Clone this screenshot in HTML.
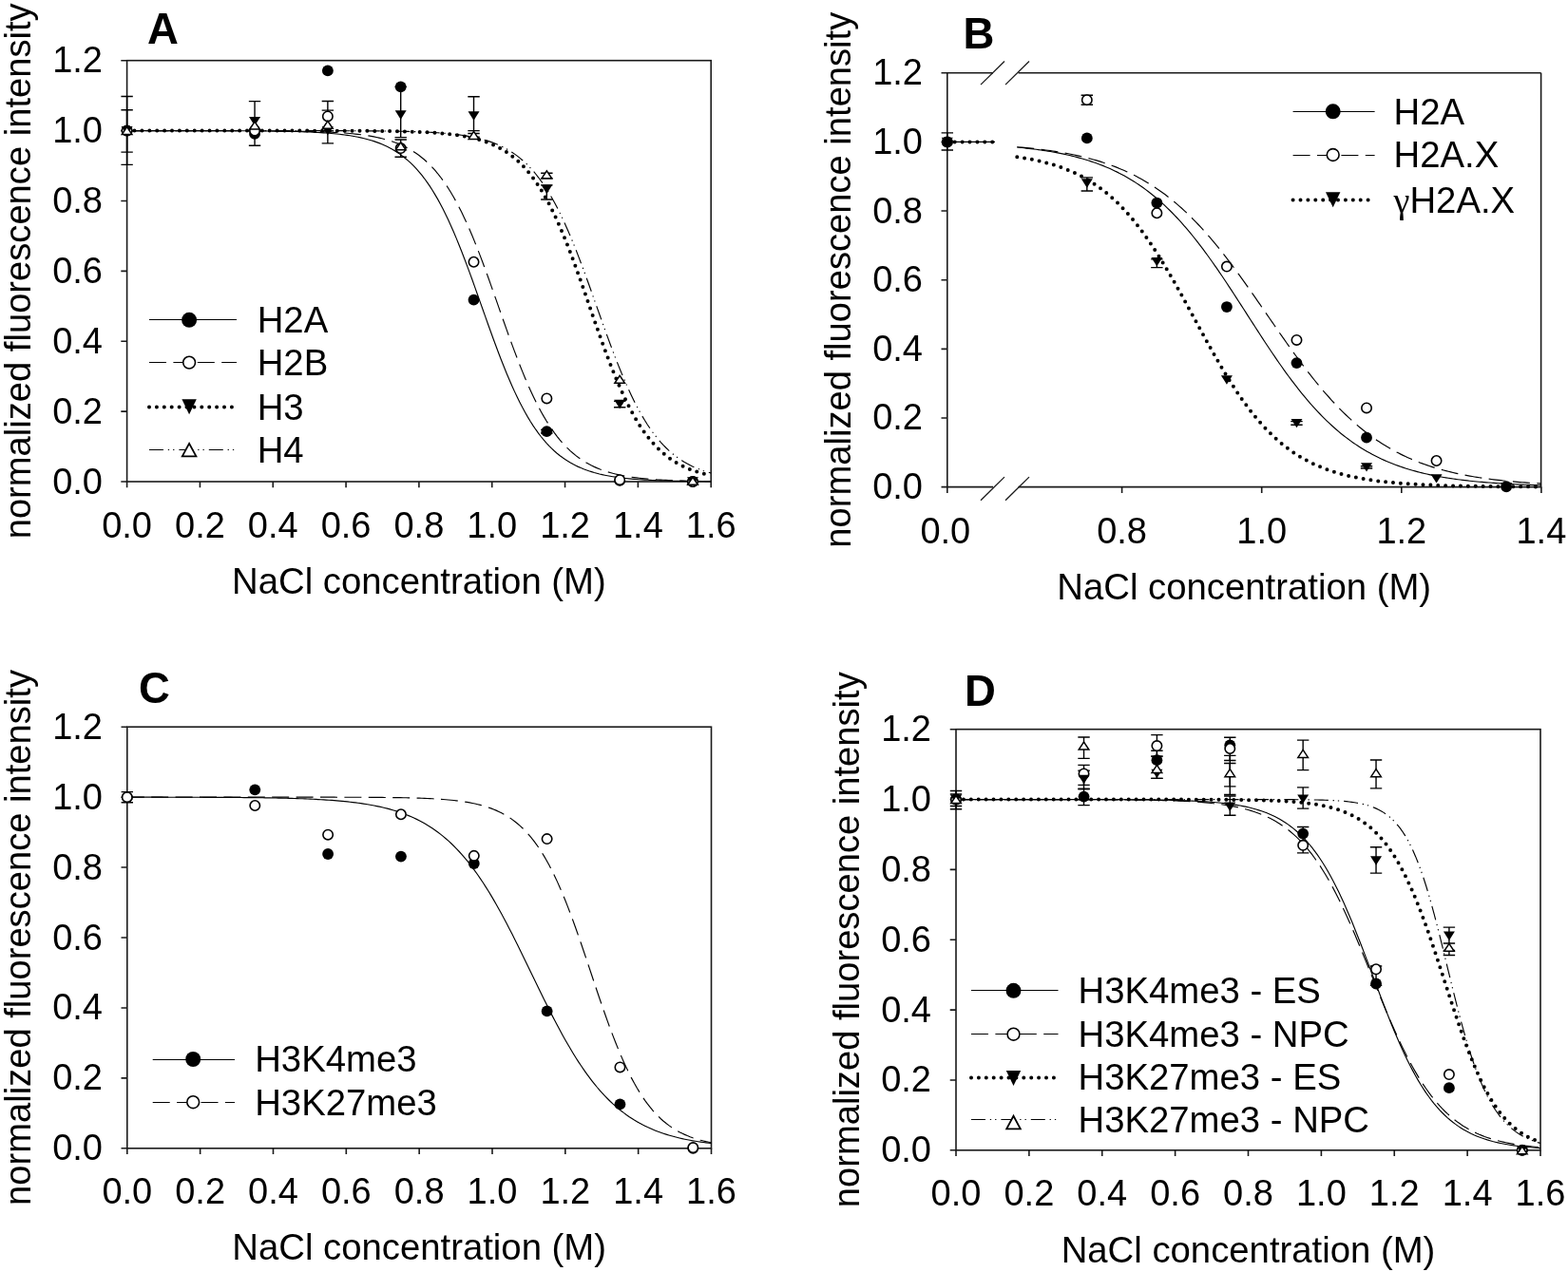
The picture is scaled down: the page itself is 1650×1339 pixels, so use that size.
<!DOCTYPE html>
<html><head><meta charset="utf-8"><title>NaCl elution curves</title>
<style>html,body{margin:0;padding:0;background:#fff;}svg{display:block;}</style>
</head><body>
<svg width="1650" height="1339" viewBox="0 0 1650 1339" font-family='"Liberation Sans", sans-serif' font-size="38" fill="#000">
<rect width="1650" height="1339" fill="#fff"/>
<rect x="133.6" y="63.7" width="614.6" height="443.3" stroke="#1a1a1a" stroke-width="1.6" fill="none"/>
<path d="M127.3 507H133.6M127.3 433.12H133.6M127.3 359.23H133.6M127.3 285.35H133.6M127.3 211.47H133.6M127.3 137.58H133.6M127.3 63.7H133.6M133.6 507V513.3M210.43 507V513.3M287.25 507V513.3M364.08 507V513.3M440.9 507V513.3M517.73 507V513.3M594.55 507V513.3M671.38 507V513.3M748.2 507V513.3" stroke="#1a1a1a" stroke-width="1.6" fill="none"/>
<text x="108" y="519.5" text-anchor="end">0.0</text>
<text x="108" y="445.62" text-anchor="end">0.2</text>
<text x="108" y="371.73" text-anchor="end">0.4</text>
<text x="108" y="297.85" text-anchor="end">0.6</text>
<text x="108" y="223.97" text-anchor="end">0.8</text>
<text x="108" y="150.08" text-anchor="end">1.0</text>
<text x="108" y="76.2" text-anchor="end">1.2</text>
<text x="133.6" y="566" text-anchor="middle">0.0</text>
<text x="210.43" y="566" text-anchor="middle">0.2</text>
<text x="287.25" y="566" text-anchor="middle">0.4</text>
<text x="364.08" y="566" text-anchor="middle">0.6</text>
<text x="440.9" y="566" text-anchor="middle">0.8</text>
<text x="517.73" y="566" text-anchor="middle">1.0</text>
<text x="594.55" y="566" text-anchor="middle">1.2</text>
<text x="671.38" y="566" text-anchor="middle">1.4</text>
<text x="748.2" y="566" text-anchor="middle">1.6</text>
<text x="440.9" y="624.7" text-anchor="middle" font-size="38.3">NaCl concentration (M)</text>
<text transform="translate(31.8 285.35) rotate(-90)" text-anchor="middle" font-size="38.15">normalized fluorescence intensity</text>
<text x="155" y="46.4" font-weight="bold" font-size="45.5">A</text>
<path d="M996 76.8H1045M1071.5 76.8H1621.6" stroke="#1a1a1a" stroke-width="1.6" fill="none"/>
<path d="M1032 89.1L1057 64.5" stroke="#1a1a1a" stroke-width="1.3" fill="none"/>
<path d="M1058 89.1L1083 64.5" stroke="#1a1a1a" stroke-width="1.3" fill="none"/>
<path d="M996 512.6H1045M1071.5 512.6H1621.6" stroke="#1a1a1a" stroke-width="1.6" fill="none"/>
<path d="M1032 526.7L1057 502.1" stroke="#1a1a1a" stroke-width="1.3" fill="none"/>
<path d="M1058 526.7L1083 502.1" stroke="#1a1a1a" stroke-width="1.3" fill="none"/>
<path d="M996.8 76.8V512.6M1621.6 76.8V513.4" stroke="#1a1a1a" stroke-width="1.6" fill="none"/>
<path d="M990.5 512.6H996.8M990.5 439.97H996.8M990.5 367.33H996.8M990.5 294.7H996.8M990.5 222.07H996.8M990.5 149.43H996.8M990.5 76.8H996.8M996.8 512.6V518.9M1180.6 512.6V518.9M1327.7 512.6V518.9M1474.8 512.6V518.9M1621.9 512.6V518.9" stroke="#1a1a1a" stroke-width="1.6" fill="none"/>
<text x="971" y="525.1" text-anchor="end">0.0</text>
<text x="971" y="452.47" text-anchor="end">0.2</text>
<text x="971" y="379.83" text-anchor="end">0.4</text>
<text x="971" y="307.2" text-anchor="end">0.6</text>
<text x="971" y="234.57" text-anchor="end">0.8</text>
<text x="971" y="161.93" text-anchor="end">1.0</text>
<text x="971" y="89.3" text-anchor="end">1.2</text>
<text x="994.8" y="571.7" text-anchor="middle">0.0</text>
<text x="1180.6" y="571.7" text-anchor="middle">0.8</text>
<text x="1327.7" y="571.7" text-anchor="middle">1.0</text>
<text x="1474.8" y="571.7" text-anchor="middle">1.2</text>
<text x="1621.9" y="571.7" text-anchor="middle">1.4</text>
<text x="1309.2" y="630.6" text-anchor="middle" font-size="38.3">NaCl concentration (M)</text>
<text transform="translate(895 294.7) rotate(-90)" text-anchor="middle" font-size="38.15">normalized fluorescence intensity</text>
<text x="1013.5" y="51.1" font-weight="bold" font-size="45.5">B</text>
<rect x="133.8" y="765.2" width="614.7" height="443.6" stroke="#1a1a1a" stroke-width="1.6" fill="none"/>
<path d="M127.5 1208.8H133.8M127.5 1134.87H133.8M127.5 1060.93H133.8M127.5 987H133.8M127.5 913.07H133.8M127.5 839.13H133.8M127.5 765.2H133.8M133.8 1208.8V1215.1M210.64 1208.8V1215.1M287.48 1208.8V1215.1M364.31 1208.8V1215.1M441.15 1208.8V1215.1M517.99 1208.8V1215.1M594.83 1208.8V1215.1M671.66 1208.8V1215.1M748.5 1208.8V1215.1" stroke="#1a1a1a" stroke-width="1.6" fill="none"/>
<text x="108" y="1221.3" text-anchor="end">0.0</text>
<text x="108" y="1147.37" text-anchor="end">0.2</text>
<text x="108" y="1073.43" text-anchor="end">0.4</text>
<text x="108" y="999.5" text-anchor="end">0.6</text>
<text x="108" y="925.57" text-anchor="end">0.8</text>
<text x="108" y="851.63" text-anchor="end">1.0</text>
<text x="108" y="777.7" text-anchor="end">1.2</text>
<text x="133.8" y="1267.2" text-anchor="middle">0.0</text>
<text x="210.64" y="1267.2" text-anchor="middle">0.2</text>
<text x="287.48" y="1267.2" text-anchor="middle">0.4</text>
<text x="364.31" y="1267.2" text-anchor="middle">0.6</text>
<text x="441.15" y="1267.2" text-anchor="middle">0.8</text>
<text x="517.99" y="1267.2" text-anchor="middle">1.0</text>
<text x="594.83" y="1267.2" text-anchor="middle">1.2</text>
<text x="671.66" y="1267.2" text-anchor="middle">1.4</text>
<text x="748.5" y="1267.2" text-anchor="middle">1.6</text>
<text x="441.15" y="1326.2" text-anchor="middle" font-size="38.3">NaCl concentration (M)</text>
<text transform="translate(32 987) rotate(-90)" text-anchor="middle" font-size="38.15">normalized fluorescence intensity</text>
<text x="146" y="740" font-weight="bold" font-size="45.5">C</text>
<rect x="1006" y="767.7" width="615" height="443.1" stroke="#1a1a1a" stroke-width="1.6" fill="none"/>
<path d="M999.7 1210.8H1006M999.7 1136.95H1006M999.7 1063.1H1006M999.7 989.25H1006M999.7 915.4H1006M999.7 841.55H1006M999.7 767.7H1006M1006 1210.8V1217.1M1082.88 1210.8V1217.1M1159.75 1210.8V1217.1M1236.62 1210.8V1217.1M1313.5 1210.8V1217.1M1390.38 1210.8V1217.1M1467.25 1210.8V1217.1M1544.12 1210.8V1217.1M1621 1210.8V1217.1" stroke="#1a1a1a" stroke-width="1.6" fill="none"/>
<text x="980" y="1223.3" text-anchor="end">0.0</text>
<text x="980" y="1149.45" text-anchor="end">0.2</text>
<text x="980" y="1075.6" text-anchor="end">0.4</text>
<text x="980" y="1001.75" text-anchor="end">0.6</text>
<text x="980" y="927.9" text-anchor="end">0.8</text>
<text x="980" y="854.05" text-anchor="end">1.0</text>
<text x="980" y="780.2" text-anchor="end">1.2</text>
<text x="1006" y="1268.8" text-anchor="middle">0.0</text>
<text x="1082.88" y="1268.8" text-anchor="middle">0.2</text>
<text x="1159.75" y="1268.8" text-anchor="middle">0.4</text>
<text x="1236.62" y="1268.8" text-anchor="middle">0.6</text>
<text x="1313.5" y="1268.8" text-anchor="middle">0.8</text>
<text x="1390.38" y="1268.8" text-anchor="middle">1.0</text>
<text x="1467.25" y="1268.8" text-anchor="middle">1.2</text>
<text x="1544.12" y="1268.8" text-anchor="middle">1.4</text>
<text x="1621" y="1268.8" text-anchor="middle">1.6</text>
<text x="1313.5" y="1328.5" text-anchor="middle" font-size="38.3">NaCl concentration (M)</text>
<text transform="translate(904 989.25) rotate(-90)" text-anchor="middle" font-size="38.15">normalized fluorescence intensity</text>
<text x="1015" y="743" font-weight="bold" font-size="45.5">D</text>
<path d="M133.6 137.59 L136.39 137.59 L139.19 137.59 L141.98 137.59 L144.77 137.59 L147.57 137.59 L150.36 137.59 L153.16 137.59 L155.95 137.59 L158.74 137.59 L161.54 137.59 L164.33 137.59 L167.12 137.59 L169.92 137.6 L172.71 137.6 L175.5 137.6 L178.3 137.6 L181.09 137.6 L183.89 137.6 L186.68 137.6 L189.47 137.61 L192.27 137.61 L195.06 137.61 L197.85 137.61 L200.65 137.61 L203.44 137.62 L206.23 137.62 L209.03 137.62 L211.82 137.63 L214.62 137.63 L217.41 137.64 L220.2 137.64 L223 137.64 L225.79 137.65 L228.58 137.66 L231.38 137.66 L234.17 137.67 L236.96 137.68 L239.76 137.69 L242.55 137.7 L245.35 137.71 L248.14 137.72 L250.93 137.73 L253.73 137.74 L256.52 137.75 L259.31 137.77 L262.11 137.79 L264.9 137.8 L267.69 137.82 L270.49 137.85 L273.28 137.87 L276.08 137.9 L278.87 137.92 L281.66 137.95 L284.46 137.99 L287.25 138.02 L290.04 138.06 L292.84 138.1 L295.63 138.15 L298.42 138.2 L301.22 138.26 L304.01 138.32 L306.81 138.38 L309.6 138.45 L312.39 138.53 L315.19 138.62 L317.98 138.71 L320.77 138.81 L323.57 138.92 L326.36 139.04 L329.15 139.17 L331.95 139.31 L334.74 139.46 L337.54 139.63 L340.33 139.81 L343.12 140.01 L345.92 140.22 L348.71 140.46 L351.5 140.71 L354.3 140.99 L357.09 141.29 L359.88 141.62 L362.68 141.98 L365.47 142.37 L368.27 142.79 L371.06 143.25 L373.85 143.74 L376.65 144.28 L379.44 144.87 L382.23 145.51 L385.03 146.2 L387.82 146.95 L390.61 147.77 L393.41 148.65 L396.2 149.61 L399 150.65 L401.79 151.77 L404.58 152.99 L407.38 154.3 L410.17 155.72 L412.96 157.26 L415.76 158.92 L418.55 160.71 L421.34 162.63 L424.14 164.71 L426.93 166.94 L429.73 169.34 L432.52 171.92 L435.31 174.68 L438.11 177.64 L440.9 180.8 L443.69 184.18 L446.49 187.78 L449.28 191.62 L452.07 195.69 L454.87 200.01 L457.66 204.58 L460.46 209.4 L463.25 214.49 L466.04 219.84 L468.84 225.44 L471.63 231.31 L474.42 237.43 L477.22 243.79 L480.01 250.39 L482.8 257.21 L485.6 264.24 L488.39 271.46 L491.19 278.86 L493.98 286.4 L496.77 294.07 L499.57 301.85 L502.36 309.69 L505.15 317.59 L507.95 325.5 L510.74 333.39 L513.53 341.25 L516.33 349.04 L519.12 356.73 L521.92 364.3 L524.71 371.73 L527.5 378.99 L530.3 386.05 L533.09 392.92 L535.88 399.56 L538.68 405.97 L541.47 412.13 L544.26 418.04 L547.06 423.7 L549.85 429.1 L552.65 434.23 L555.44 439.11 L558.23 443.73 L561.03 448.09 L563.82 452.21 L566.61 456.09 L569.41 459.74 L572.2 463.16 L574.99 466.36 L577.79 469.36 L580.58 472.15 L583.38 474.77 L586.17 477.2 L588.96 479.46 L591.76 481.57 L594.55 483.52 L597.34 485.34 L600.14 487.02 L602.93 488.58 L605.72 490.02 L608.52 491.36 L611.31 492.59 L614.11 493.73 L616.9 494.78 L619.69 495.76 L622.49 496.65 L625.28 497.48 L628.07 498.24 L630.87 498.95 L633.66 499.59 L636.45 500.19 L639.25 500.74 L642.04 501.25 L644.84 501.71 L647.63 502.14 L650.42 502.53 L653.22 502.9 L656.01 503.23 L658.8 503.54 L661.6 503.82 L664.39 504.08 L667.18 504.32 L669.98 504.54 L672.77 504.74 L675.57 504.92 L678.36 505.09 L681.15 505.25 L683.95 505.39 L686.74 505.52 L689.53 505.64 L692.33 505.75 L695.12 505.86 L697.91 505.95 L700.71 506.04 L703.5 506.11 L706.3 506.19 L709.09 506.25 L711.88 506.31 L714.68 506.37 L717.47 506.42 L720.26 506.47 L723.06 506.51 L725.85 506.55 L728.64 506.59 L731.44 506.62 L734.23 506.65 L737.03 506.68 L739.82 506.71 L742.61 506.73 L745.41 506.75 L748.2 506.77" stroke="#000" stroke-width="1.15" fill="none"/>
<path d="M133.6 137.59 L136.39 137.59 L139.19 137.59 L141.98 137.59 L144.77 137.59 L147.57 137.59 L150.36 137.59 L153.16 137.59 L155.95 137.59 L158.74 137.59 L161.54 137.59 L164.33 137.59 L167.12 137.59 L169.92 137.59 L172.71 137.59 L175.5 137.59 L178.3 137.59 L181.09 137.59 L183.89 137.59 L186.68 137.59 L189.47 137.6 L192.27 137.6 L195.06 137.6 L197.85 137.6 L200.65 137.6 L203.44 137.6 L206.23 137.6 L209.03 137.6 L211.82 137.61 L214.62 137.61 L217.41 137.61 L220.2 137.61 L223 137.62 L225.79 137.62 L228.58 137.62 L231.38 137.63 L234.17 137.63 L236.96 137.63 L239.76 137.64 L242.55 137.64 L245.35 137.65 L248.14 137.66 L250.93 137.66 L253.73 137.67 L256.52 137.68 L259.31 137.69 L262.11 137.69 L264.9 137.7 L267.69 137.72 L270.49 137.73 L273.28 137.74 L276.08 137.75 L278.87 137.77 L281.66 137.79 L284.46 137.8 L287.25 137.82 L290.04 137.85 L292.84 137.87 L295.63 137.9 L298.42 137.92 L301.22 137.96 L304.01 137.99 L306.81 138.03 L309.6 138.06 L312.39 138.11 L315.19 138.16 L317.98 138.21 L320.77 138.26 L323.57 138.32 L326.36 138.39 L329.15 138.46 L331.95 138.54 L334.74 138.63 L337.54 138.72 L340.33 138.83 L343.12 138.94 L345.92 139.06 L348.71 139.19 L351.5 139.34 L354.3 139.49 L357.09 139.66 L359.88 139.85 L362.68 140.05 L365.47 140.28 L368.27 140.52 L371.06 140.78 L373.85 141.07 L376.65 141.38 L379.44 141.71 L382.23 142.08 L385.03 142.48 L387.82 142.92 L390.61 143.39 L393.41 143.91 L396.2 144.47 L399 145.08 L401.79 145.74 L404.58 146.45 L407.38 147.23 L410.17 148.08 L412.96 149 L415.76 149.99 L418.55 151.07 L421.34 152.24 L424.14 153.5 L426.93 154.87 L429.73 156.35 L432.52 157.95 L435.31 159.68 L438.11 161.55 L440.9 163.56 L443.69 165.72 L446.49 168.05 L449.28 170.55 L452.07 173.24 L454.87 176.12 L457.66 179.21 L460.46 182.51 L463.25 186.03 L466.04 189.78 L468.84 193.77 L471.63 198.01 L474.42 202.51 L477.22 207.26 L480.01 212.27 L482.8 217.55 L485.6 223.1 L488.39 228.9 L491.19 234.97 L493.98 241.29 L496.77 247.85 L499.57 254.65 L502.36 261.66 L505.15 268.88 L507.95 276.28 L510.74 283.83 L513.53 291.53 L516.33 299.34 L519.12 307.23 L521.92 315.18 L524.71 323.15 L527.5 331.12 L530.3 339.06 L533.09 346.93 L535.88 354.72 L538.68 362.39 L541.47 369.91 L544.26 377.27 L547.06 384.45 L549.85 391.41 L552.65 398.16 L555.44 404.67 L558.23 410.94 L561.03 416.95 L563.82 422.7 L566.61 428.19 L569.41 433.41 L572.2 438.37 L574.99 443.07 L577.79 447.5 L580.58 451.69 L583.38 455.63 L586.17 459.33 L588.96 462.81 L591.76 466.06 L594.55 469.1 L597.34 471.94 L600.14 474.58 L602.93 477.05 L605.72 479.34 L608.52 481.47 L611.31 483.45 L614.11 485.28 L616.9 486.98 L619.69 488.56 L622.49 490.01 L625.28 491.36 L628.07 492.6 L630.87 493.75 L633.66 494.81 L636.45 495.79 L639.25 496.69 L642.04 497.52 L644.84 498.29 L647.63 498.99 L650.42 499.64 L653.22 500.24 L656.01 500.79 L658.8 501.3 L661.6 501.76 L664.39 502.19 L667.18 502.58 L669.98 502.94 L672.77 503.28 L675.57 503.58 L678.36 503.86 L681.15 504.12 L683.95 504.36 L686.74 504.57 L689.53 504.77 L692.33 504.96 L695.12 505.12 L697.91 505.28 L700.71 505.42 L703.5 505.55 L706.3 505.67 L709.09 505.78 L711.88 505.88 L714.68 505.97 L717.47 506.06 L720.26 506.14 L723.06 506.21 L725.85 506.27 L728.64 506.33 L731.44 506.39 L734.23 506.44 L737.03 506.48 L739.82 506.53 L742.61 506.57 L745.41 506.6 L748.2 506.64" stroke="#000" stroke-width="1.15" fill="none" stroke-dasharray="18 7.4"/>
<path d="M133.6 137.58 L136.39 137.58 L139.19 137.58 L141.98 137.58 L144.77 137.58 L147.57 137.58 L150.36 137.58 L153.16 137.58 L155.95 137.58 L158.74 137.58 L161.54 137.58 L164.33 137.58 L167.12 137.58 L169.92 137.58 L172.71 137.58 L175.5 137.58 L178.3 137.58 L181.09 137.58 L183.89 137.58 L186.68 137.58 L189.47 137.58 L192.27 137.58 L195.06 137.58 L197.85 137.58 L200.65 137.58 L203.44 137.58 L206.23 137.58 L209.03 137.58 L211.82 137.58 L214.62 137.58 L217.41 137.58 L220.2 137.58 L223 137.58 L225.79 137.58 L228.58 137.59 L231.38 137.59 L234.17 137.59 L236.96 137.59 L239.76 137.59 L242.55 137.59 L245.35 137.59 L248.14 137.59 L250.93 137.59 L253.73 137.59 L256.52 137.59 L259.31 137.59 L262.11 137.59 L264.9 137.59 L267.69 137.59 L270.49 137.59 L273.28 137.59 L276.08 137.59 L278.87 137.59 L281.66 137.59 L284.46 137.59 L287.25 137.59 L290.04 137.6 L292.84 137.6 L295.63 137.6 L298.42 137.6 L301.22 137.6 L304.01 137.6 L306.81 137.6 L309.6 137.61 L312.39 137.61 L315.19 137.61 L317.98 137.61 L320.77 137.61 L323.57 137.62 L326.36 137.62 L329.15 137.62 L331.95 137.63 L334.74 137.63 L337.54 137.64 L340.33 137.64 L343.12 137.65 L345.92 137.65 L348.71 137.66 L351.5 137.66 L354.3 137.67 L357.09 137.68 L359.88 137.69 L362.68 137.7 L365.47 137.71 L368.27 137.72 L371.06 137.73 L373.85 137.75 L376.65 137.76 L379.44 137.78 L382.23 137.8 L385.03 137.82 L387.82 137.84 L390.61 137.86 L393.41 137.89 L396.2 137.91 L399 137.94 L401.79 137.98 L404.58 138.01 L407.38 138.05 L410.17 138.09 L412.96 138.14 L415.76 138.19 L418.55 138.25 L421.34 138.31 L424.14 138.37 L426.93 138.44 L429.73 138.52 L432.52 138.61 L435.31 138.7 L438.11 138.8 L440.9 138.92 L443.69 139.04 L446.49 139.17 L449.28 139.31 L452.07 139.47 L454.87 139.64 L457.66 139.83 L460.46 140.04 L463.25 140.26 L466.04 140.5 L468.84 140.77 L471.63 141.05 L474.42 141.37 L477.22 141.71 L480.01 142.08 L482.8 142.49 L485.6 142.93 L488.39 143.41 L491.19 143.94 L493.98 144.51 L496.77 145.13 L499.57 145.8 L502.36 146.54 L505.15 147.33 L507.95 148.2 L510.74 149.14 L513.53 150.16 L516.33 151.27 L519.12 152.47 L521.92 153.77 L524.71 155.18 L527.5 156.71 L530.3 158.36 L533.09 160.14 L535.88 162.07 L538.68 164.15 L541.47 166.39 L544.26 168.8 L547.06 171.39 L549.85 174.18 L552.65 177.16 L555.44 180.37 L558.23 183.79 L561.03 187.45 L563.82 191.34 L566.61 195.49 L569.41 199.89 L572.2 204.56 L574.99 209.49 L577.79 214.69 L580.58 220.17 L583.38 225.92 L586.17 231.93 L588.96 238.21 L591.76 244.75 L594.55 251.52 L597.34 258.53 L600.14 265.76 L602.93 273.18 L605.72 280.77 L608.52 288.52 L611.31 296.39 L614.11 304.35 L616.9 312.39 L619.69 320.46 L622.49 328.54 L625.28 336.6 L628.07 344.6 L630.87 352.52 L633.66 360.32 L636.45 367.99 L639.25 375.49 L642.04 382.81 L644.84 389.92 L647.63 396.8 L650.42 403.45 L653.22 409.84 L656.01 415.98 L658.8 421.85 L661.6 427.45 L664.39 432.77 L667.18 437.83 L669.98 442.61 L672.77 447.14 L675.57 451.4 L678.36 455.41 L681.15 459.17 L683.95 462.7 L686.74 466 L689.53 469.08 L692.33 471.96 L695.12 474.64 L697.91 477.13 L700.71 479.44 L703.5 481.6 L706.3 483.59 L709.09 485.44 L711.88 487.15 L714.68 488.73 L717.47 490.19 L720.26 491.54 L723.06 492.78 L725.85 493.93 L728.64 494.99 L731.44 495.97 L734.23 496.87 L737.03 497.7 L739.82 498.46 L742.61 499.16 L745.41 499.8 L748.2 500.39" stroke="#000" stroke-width="4.0" fill="none" stroke-dasharray="0 7.9" stroke-linecap="round"/>
<path d="M133.6 137.58 L136.39 137.58 L139.19 137.58 L141.98 137.58 L144.77 137.58 L147.57 137.58 L150.36 137.58 L153.16 137.58 L155.95 137.58 L158.74 137.58 L161.54 137.58 L164.33 137.58 L167.12 137.58 L169.92 137.58 L172.71 137.58 L175.5 137.58 L178.3 137.58 L181.09 137.58 L183.89 137.58 L186.68 137.58 L189.47 137.58 L192.27 137.58 L195.06 137.58 L197.85 137.58 L200.65 137.58 L203.44 137.58 L206.23 137.58 L209.03 137.58 L211.82 137.58 L214.62 137.58 L217.41 137.58 L220.2 137.58 L223 137.58 L225.79 137.58 L228.58 137.59 L231.38 137.59 L234.17 137.59 L236.96 137.59 L239.76 137.59 L242.55 137.59 L245.35 137.59 L248.14 137.59 L250.93 137.59 L253.73 137.59 L256.52 137.59 L259.31 137.59 L262.11 137.59 L264.9 137.59 L267.69 137.59 L270.49 137.59 L273.28 137.59 L276.08 137.59 L278.87 137.59 L281.66 137.59 L284.46 137.59 L287.25 137.59 L290.04 137.6 L292.84 137.6 L295.63 137.6 L298.42 137.6 L301.22 137.6 L304.01 137.6 L306.81 137.6 L309.6 137.6 L312.39 137.61 L315.19 137.61 L317.98 137.61 L320.77 137.61 L323.57 137.62 L326.36 137.62 L329.15 137.62 L331.95 137.63 L334.74 137.63 L337.54 137.63 L340.33 137.64 L343.12 137.64 L345.92 137.65 L348.71 137.66 L351.5 137.66 L354.3 137.67 L357.09 137.68 L359.88 137.68 L362.68 137.69 L365.47 137.7 L368.27 137.71 L371.06 137.73 L373.85 137.74 L376.65 137.75 L379.44 137.77 L382.23 137.78 L385.03 137.8 L387.82 137.82 L390.61 137.84 L393.41 137.87 L396.2 137.89 L399 137.92 L401.79 137.95 L404.58 137.98 L407.38 138.02 L410.17 138.05 L412.96 138.1 L415.76 138.14 L418.55 138.19 L421.34 138.25 L424.14 138.3 L426.93 138.37 L429.73 138.44 L432.52 138.51 L435.31 138.6 L438.11 138.69 L440.9 138.79 L443.69 138.89 L446.49 139.01 L449.28 139.14 L452.07 139.28 L454.87 139.43 L457.66 139.59 L460.46 139.77 L463.25 139.96 L466.04 140.17 L468.84 140.4 L471.63 140.65 L474.42 140.92 L477.22 141.22 L480.01 141.54 L482.8 141.89 L485.6 142.27 L488.39 142.68 L491.19 143.13 L493.98 143.62 L496.77 144.15 L499.57 144.72 L502.36 145.35 L505.15 146.03 L507.95 146.76 L510.74 147.56 L513.53 148.42 L516.33 149.36 L519.12 150.38 L521.92 151.48 L524.71 152.67 L527.5 153.95 L530.3 155.35 L533.09 156.85 L535.88 158.47 L538.68 160.23 L541.47 162.11 L544.26 164.15 L547.06 166.34 L549.85 168.69 L552.65 171.21 L555.44 173.92 L558.23 176.82 L561.03 179.93 L563.82 183.24 L566.61 186.78 L569.41 190.54 L572.2 194.54 L574.99 198.79 L577.79 203.28 L580.58 208.03 L583.38 213.04 L586.17 218.31 L588.96 223.83 L591.76 229.62 L594.55 235.66 L597.34 241.94 L600.14 248.47 L602.93 255.22 L605.72 262.18 L608.52 269.34 L611.31 276.68 L614.11 284.18 L616.9 291.8 L619.69 299.54 L622.49 307.36 L625.28 315.23 L628.07 323.13 L630.87 331.03 L633.66 338.89 L636.45 346.69 L639.25 354.41 L642.04 362.01 L644.84 369.47 L647.63 376.78 L650.42 383.9 L653.22 390.82 L656.01 397.52 L658.8 404 L661.6 410.23 L664.39 416.21 L667.18 421.95 L669.98 427.42 L672.77 432.63 L675.57 437.58 L678.36 442.28 L681.15 446.72 L683.95 450.91 L686.74 454.86 L689.53 458.58 L692.33 462.06 L695.12 465.33 L697.91 468.39 L700.71 471.25 L703.5 473.92 L706.3 476.41 L709.09 478.73 L711.88 480.88 L714.68 482.88 L717.47 484.74 L720.26 486.47 L723.06 488.06 L725.85 489.54 L728.64 490.91 L731.44 492.18 L734.23 493.35 L737.03 494.43 L739.82 495.43 L742.61 496.35 L745.41 497.2 L748.2 497.98" stroke="#000" stroke-width="1.15" fill="none" stroke-dasharray="15 4.8 1.3 4 1.3 5"/>
<path d="M133.6 173.42V101.57M127.4 173.42H139.8M127.4 101.57H139.8" stroke="#000" stroke-width="1.4" fill="none"/>
<path d="M133.6 160.12V115.79M127.4 160.12H139.8M127.4 115.79H139.8" stroke="#000" stroke-width="1.4" fill="none"/>
<path d="M268.04 153.28V106.66M261.84 153.28H274.24M261.84 106.66H274.24" stroke="#000" stroke-width="1.4" fill="none"/>
<path d="M344.87 150.88V106.55M338.67 150.88H351.07M338.67 106.55H351.07" stroke="#000" stroke-width="1.4" fill="none"/>
<path d="M344.87 137.58V116.16M338.67 137.58H351.07M338.67 116.16H351.07" stroke="#000" stroke-width="1.4" fill="none"/>
<path d="M421.69 144.6V91.41M415.49 144.6H427.89M415.49 91.41H427.89" stroke="#000" stroke-width="1.4" fill="none"/>
<path d="M421.69 165.29V147M415.49 165.29H427.89M415.49 147H427.89" stroke="#000" stroke-width="1.4" fill="none"/>
<path d="M498.52 137.58V101.75M492.32 137.58H504.72M492.32 101.75H504.72" stroke="#000" stroke-width="1.4" fill="none"/>
<path d="M498.52 144.23V140.54M492.32 144.23H504.72M492.32 140.54H504.72" stroke="#000" stroke-width="1.4" fill="none"/>
<path d="M575.34 187.82V182.28M569.14 187.82H581.54M569.14 182.28H581.54" stroke="#000" stroke-width="1.4" fill="none"/>
<path d="M575.34 209.99V194.84M569.14 209.99H581.54M569.14 194.84H581.54" stroke="#000" stroke-width="1.4" fill="none"/>
<path d="M652.17 428.68V422.4M645.97 428.68H658.37M645.97 422.4H658.37" stroke="#000" stroke-width="1.4" fill="none"/>
<path d="M575.34 456.02V452.33M569.14 456.02H581.54M569.14 452.33H581.54" stroke="#000" stroke-width="1.4" fill="none"/>
<circle cx="133.6" cy="137.58" r="5.9" fill="#000"/>
<circle cx="268.04" cy="140.91" r="5.9" fill="#000"/>
<circle cx="344.87" cy="74.41" r="5.9" fill="#000"/>
<circle cx="421.69" cy="91.41" r="5.9" fill="#000"/>
<circle cx="498.52" cy="315.64" r="5.9" fill="#000"/>
<circle cx="575.34" cy="454.17" r="5.9" fill="#000"/>
<circle cx="652.17" cy="505.89" r="5.9" fill="#000"/>
<circle cx="728.99" cy="507" r="5.9" fill="#000"/>
<circle cx="133.6" cy="137.58" r="5.2" fill="#fff" stroke="#000" stroke-width="1.6"/>
<circle cx="268.04" cy="137.58" r="5.2" fill="#fff" stroke="#000" stroke-width="1.6"/>
<circle cx="344.87" cy="122.44" r="5.2" fill="#fff" stroke="#000" stroke-width="1.6"/>
<circle cx="421.69" cy="156.05" r="5.2" fill="#fff" stroke="#000" stroke-width="1.6"/>
<circle cx="498.52" cy="275.75" r="5.2" fill="#fff" stroke="#000" stroke-width="1.6"/>
<circle cx="575.34" cy="419.45" r="5.2" fill="#fff" stroke="#000" stroke-width="1.6"/>
<circle cx="652.17" cy="505.15" r="5.2" fill="#fff" stroke="#000" stroke-width="1.6"/>
<circle cx="728.99" cy="507" r="5.2" fill="#fff" stroke="#000" stroke-width="1.6"/>
<path d="M127.6 132.88H139.6L133.6 142.28Z" fill="#000"/>
<path d="M262.04 123.09H274.04L268.04 132.49Z" fill="#000"/>
<path d="M338.87 132.88H350.87L344.87 142.28Z" fill="#000"/>
<path d="M415.69 116.26H427.69L421.69 125.66Z" fill="#000"/>
<path d="M492.52 117.37H504.52L498.52 126.77Z" fill="#000"/>
<path d="M569.34 194.58H581.34L575.34 203.98Z" fill="#000"/>
<path d="M646.17 420.84H658.17L652.17 430.24Z" fill="#000"/>
<path d="M722.99 502.3H734.99L728.99 511.7Z" fill="#000"/>
<path d="M128.3 141.58H138.9L133.6 133.58Z" fill="#fff" stroke="#000" stroke-width="1.5" stroke-linejoin="miter"/>
<path d="M262.74 136.04H273.34L268.04 128.04Z" fill="#fff" stroke="#000" stroke-width="1.5" stroke-linejoin="miter"/>
<path d="M339.57 135.3H350.17L344.87 127.3Z" fill="#fff" stroke="#000" stroke-width="1.5" stroke-linejoin="miter"/>
<path d="M416.39 157.84H426.99L421.69 149.84Z" fill="#fff" stroke="#000" stroke-width="1.5" stroke-linejoin="miter"/>
<path d="M493.22 146.39H503.82L498.52 138.39Z" fill="#fff" stroke="#000" stroke-width="1.5" stroke-linejoin="miter"/>
<path d="M570.04 187.76H580.64L575.34 179.76Z" fill="#fff" stroke="#000" stroke-width="1.5" stroke-linejoin="miter"/>
<path d="M646.87 403.32H657.47L652.17 395.32Z" fill="#fff" stroke="#000" stroke-width="1.5" stroke-linejoin="miter"/>
<path d="M723.69 510.26H734.29L728.99 502.26Z" fill="#fff" stroke="#000" stroke-width="1.5" stroke-linejoin="miter"/>
<path d="M157 336.5H249" stroke="#000" stroke-width="1.15" fill="none"/>
<circle cx="199.1" cy="336.8" r="8" fill="#000"/>
<text x="270.7" y="350.2" font-size="38.3">H2A</text>
<path d="M157 381.5H249" stroke="#000" stroke-width="1.15" fill="none" stroke-dasharray="18 7.4"/>
<circle cx="199.1" cy="381.6" r="6.4" fill="#fff" stroke="#000" stroke-width="1.6"/>
<text x="270.7" y="395" font-size="38.3">H2B</text>
<path d="M157 428.5H249" stroke="#000" stroke-width="4.0" fill="none" stroke-dasharray="0 7.9" stroke-linecap="round"/>
<path d="M191.4 420.3H206.8L199.1 436.3Z" fill="#000"/>
<text x="270.7" y="441.7" font-size="38.3">H3</text>
<path d="M157 473.5H249" stroke="#000" stroke-width="1.15" fill="none" stroke-dasharray="15 4.8 1.3 4 1.3 5"/>
<path d="M191.8 480.4H206.4L199.1 466.8Z" fill="#fff" stroke="#000" stroke-width="1.8" stroke-linejoin="miter"/>
<text x="270.7" y="487" font-size="38.3">H4</text>
<path d="M996.8 149.43H1047" stroke="#000" stroke-width="1.15" fill="none"/>
<path d="M996.8 149.43H1047" stroke="#000" stroke-width="4.0" fill="none" stroke-dasharray="0 7.9" stroke-linecap="round"/>
<path d="M1070.27 155.04 L1072.78 155.28 L1075.29 155.54 L1077.8 155.8 L1080.3 156.07 L1082.81 156.36 L1085.32 156.66 L1087.83 156.97 L1090.33 157.3 L1092.84 157.63 L1095.35 157.99 L1097.86 158.35 L1100.36 158.73 L1102.87 159.13 L1105.38 159.55 L1107.89 159.98 L1110.39 160.43 L1112.9 160.9 L1115.41 161.39 L1117.92 161.89 L1120.42 162.42 L1122.93 162.97 L1125.44 163.54 L1127.94 164.14 L1130.45 164.76 L1132.96 165.4 L1135.47 166.07 L1137.97 166.77 L1140.48 167.49 L1142.99 168.25 L1145.5 169.03 L1148 169.84 L1150.51 170.69 L1153.02 171.57 L1155.53 172.48 L1158.03 173.43 L1160.54 174.41 L1163.05 175.43 L1165.56 176.49 L1168.06 177.58 L1170.57 178.72 L1173.08 179.9 L1175.59 181.13 L1178.09 182.39 L1180.6 183.71 L1183.11 185.07 L1185.61 186.47 L1188.12 187.93 L1190.63 189.44 L1193.14 191 L1195.64 192.61 L1198.15 194.27 L1200.66 195.99 L1203.17 197.76 L1205.67 199.6 L1208.18 201.49 L1210.69 203.44 L1213.2 205.45 L1215.7 207.51 L1218.21 209.65 L1220.72 211.84 L1223.23 214.1 L1225.73 216.41 L1228.24 218.8 L1230.75 221.25 L1233.26 223.76 L1235.76 226.33 L1238.27 228.98 L1240.78 231.68 L1243.28 234.45 L1245.79 237.29 L1248.3 240.19 L1250.81 243.15 L1253.31 246.17 L1255.82 249.26 L1258.33 252.4 L1260.84 255.61 L1263.34 258.87 L1265.85 262.19 L1268.36 265.56 L1270.87 268.99 L1273.37 272.47 L1275.88 275.99 L1278.39 279.56 L1280.9 283.18 L1283.4 286.84 L1285.91 290.53 L1288.42 294.26 L1290.92 298.03 L1293.43 301.82 L1295.94 305.64 L1298.45 309.48 L1300.95 313.35 L1303.46 317.22 L1305.97 321.12 L1308.48 325.02 L1310.98 328.92 L1313.49 332.83 L1316 336.74 L1318.51 340.64 L1321.01 344.53 L1323.52 348.41 L1326.03 352.27 L1328.54 356.12 L1331.04 359.94 L1333.55 363.73 L1336.06 367.5 L1338.57 371.23 L1341.07 374.93 L1343.58 378.59 L1346.09 382.21 L1348.59 385.78 L1351.1 389.31 L1353.61 392.79 L1356.12 396.22 L1358.62 399.6 L1361.13 402.93 L1363.64 406.19 L1366.15 409.4 L1368.65 412.55 L1371.16 415.64 L1373.67 418.67 L1376.18 421.64 L1378.68 424.54 L1381.19 427.38 L1383.7 430.15 L1386.21 432.86 L1388.71 435.51 L1391.22 438.09 L1393.73 440.61 L1396.24 443.06 L1398.74 445.45 L1401.25 447.77 L1403.76 450.03 L1406.26 452.23 L1408.77 454.37 L1411.28 456.44 L1413.79 458.45 L1416.29 460.41 L1418.8 462.3 L1421.31 464.14 L1423.82 465.92 L1426.32 467.64 L1428.83 469.31 L1431.34 470.92 L1433.85 472.49 L1436.35 474 L1438.86 475.46 L1441.37 476.87 L1443.88 478.23 L1446.38 479.55 L1448.89 480.82 L1451.4 482.04 L1453.91 483.23 L1456.41 484.37 L1458.92 485.47 L1461.43 486.53 L1463.93 487.55 L1466.44 488.54 L1468.95 489.49 L1471.46 490.4 L1473.96 491.28 L1476.47 492.13 L1478.98 492.94 L1481.49 493.73 L1483.99 494.49 L1486.5 495.21 L1489.01 495.91 L1491.52 496.58 L1494.02 497.23 L1496.53 497.85 L1499.04 498.45 L1501.55 499.02 L1504.05 499.57 L1506.56 500.1 L1509.07 500.61 L1511.57 501.1 L1514.08 501.57 L1516.59 502.02 L1519.1 502.46 L1521.6 502.87 L1524.11 503.27 L1526.62 503.65 L1529.13 504.02 L1531.63 504.38 L1534.14 504.71 L1536.65 505.04 L1539.16 505.35 L1541.66 505.65 L1544.17 505.94 L1546.68 506.21 L1549.19 506.48 L1551.69 506.73 L1554.2 506.98 L1556.71 507.21 L1559.22 507.43 L1561.72 507.65 L1564.23 507.85 L1566.74 508.05 L1569.24 508.24 L1571.75 508.42 L1574.26 508.6 L1576.77 508.76 L1579.27 508.92 L1581.78 509.08 L1584.29 509.22 L1586.8 509.36 L1589.3 509.5 L1591.81 509.63 L1594.32 509.75 L1596.83 509.87 L1599.33 509.99 L1601.84 510.1 L1604.35 510.2 L1606.86 510.3 L1609.36 510.4 L1611.87 510.49 L1614.38 510.58 L1616.89 510.66 L1619.39 510.74 L1621.9 510.82" stroke="#000" stroke-width="1.15" fill="none"/>
<path d="M1070.27 154.75 L1072.78 154.96 L1075.29 155.19 L1077.8 155.42 L1080.3 155.66 L1082.81 155.91 L1085.32 156.17 L1087.83 156.44 L1090.33 156.72 L1092.84 157.01 L1095.35 157.32 L1097.86 157.63 L1100.36 157.96 L1102.87 158.3 L1105.38 158.66 L1107.89 159.02 L1110.39 159.41 L1112.9 159.8 L1115.41 160.21 L1117.92 160.64 L1120.42 161.09 L1122.93 161.55 L1125.44 162.03 L1127.94 162.53 L1130.45 163.04 L1132.96 163.58 L1135.47 164.13 L1137.97 164.71 L1140.48 165.31 L1142.99 165.93 L1145.5 166.57 L1148 167.24 L1150.51 167.93 L1153.02 168.65 L1155.53 169.4 L1158.03 170.17 L1160.54 170.97 L1163.05 171.8 L1165.56 172.65 L1168.06 173.54 L1170.57 174.46 L1173.08 175.41 L1175.59 176.4 L1178.09 177.42 L1180.6 178.47 L1183.11 179.56 L1185.61 180.69 L1188.12 181.86 L1190.63 183.06 L1193.14 184.31 L1195.64 185.6 L1198.15 186.92 L1200.66 188.3 L1203.17 189.71 L1205.67 191.17 L1208.18 192.68 L1210.69 194.23 L1213.2 195.83 L1215.7 197.48 L1218.21 199.18 L1220.72 200.93 L1223.23 202.73 L1225.73 204.58 L1228.24 206.49 L1230.75 208.45 L1233.26 210.46 L1235.76 212.52 L1238.27 214.64 L1240.78 216.82 L1243.28 219.05 L1245.79 221.34 L1248.3 223.68 L1250.81 226.08 L1253.31 228.54 L1255.82 231.05 L1258.33 233.62 L1260.84 236.25 L1263.34 238.93 L1265.85 241.66 L1268.36 244.45 L1270.87 247.3 L1273.37 250.19 L1275.88 253.14 L1278.39 256.14 L1280.9 259.19 L1283.4 262.29 L1285.91 265.44 L1288.42 268.63 L1290.92 271.87 L1293.43 275.15 L1295.94 278.47 L1298.45 281.83 L1300.95 285.23 L1303.46 288.66 L1305.97 292.12 L1308.48 295.61 L1310.98 299.13 L1313.49 302.68 L1316 306.25 L1318.51 309.83 L1321.01 313.44 L1323.52 317.05 L1326.03 320.68 L1328.54 324.32 L1331.04 327.96 L1333.55 331.61 L1336.06 335.25 L1338.57 338.9 L1341.07 342.53 L1343.58 346.16 L1346.09 349.77 L1348.59 353.37 L1351.1 356.95 L1353.61 360.51 L1356.12 364.05 L1358.62 367.56 L1361.13 371.04 L1363.64 374.5 L1366.15 377.92 L1368.65 381.3 L1371.16 384.65 L1373.67 387.96 L1376.18 391.22 L1378.68 394.44 L1381.19 397.62 L1383.7 400.75 L1386.21 403.84 L1388.71 406.87 L1391.22 409.86 L1393.73 412.79 L1396.24 415.67 L1398.74 418.5 L1401.25 421.27 L1403.76 423.99 L1406.26 426.65 L1408.77 429.25 L1411.28 431.81 L1413.79 434.3 L1416.29 436.74 L1418.8 439.12 L1421.31 441.44 L1423.82 443.71 L1426.32 445.93 L1428.83 448.09 L1431.34 450.19 L1433.85 452.24 L1436.35 454.23 L1438.86 456.17 L1441.37 458.06 L1443.88 459.89 L1446.38 461.68 L1448.89 463.41 L1451.4 465.09 L1453.91 466.73 L1456.41 468.31 L1458.92 469.85 L1461.43 471.34 L1463.93 472.79 L1466.44 474.19 L1468.95 475.55 L1471.46 476.86 L1473.96 478.13 L1476.47 479.37 L1478.98 480.56 L1481.49 481.71 L1483.99 482.83 L1486.5 483.91 L1489.01 484.95 L1491.52 485.96 L1494.02 486.93 L1496.53 487.88 L1499.04 488.78 L1501.55 489.66 L1504.05 490.51 L1506.56 491.33 L1509.07 492.12 L1511.57 492.88 L1514.08 493.62 L1516.59 494.33 L1519.1 495.01 L1521.6 495.67 L1524.11 496.31 L1526.62 496.92 L1529.13 497.51 L1531.63 498.08 L1534.14 498.63 L1536.65 499.16 L1539.16 499.67 L1541.66 500.16 L1544.17 500.64 L1546.68 501.09 L1549.19 501.53 L1551.69 501.95 L1554.2 502.36 L1556.71 502.75 L1559.22 503.13 L1561.72 503.49 L1564.23 503.84 L1566.74 504.18 L1569.24 504.5 L1571.75 504.82 L1574.26 505.12 L1576.77 505.41 L1579.27 505.68 L1581.78 505.95 L1584.29 506.21 L1586.8 506.45 L1589.3 506.69 L1591.81 506.92 L1594.32 507.14 L1596.83 507.35 L1599.33 507.56 L1601.84 507.75 L1604.35 507.94 L1606.86 508.12 L1609.36 508.3 L1611.87 508.46 L1614.38 508.62 L1616.89 508.78 L1619.39 508.93 L1621.9 509.07" stroke="#000" stroke-width="1.15" fill="none" stroke-dasharray="18 7.4"/>
<path d="M1070.27 165.15 L1072.78 165.53 L1075.29 165.92 L1077.8 166.34 L1080.3 166.77 L1082.81 167.23 L1085.32 167.71 L1087.83 168.22 L1090.33 168.75 L1092.84 169.3 L1095.35 169.89 L1097.86 170.5 L1100.36 171.15 L1102.87 171.83 L1105.38 172.54 L1107.89 173.28 L1110.39 174.06 L1112.9 174.88 L1115.41 175.74 L1117.92 176.64 L1120.42 177.59 L1122.93 178.58 L1125.44 179.61 L1127.94 180.7 L1130.45 181.83 L1132.96 183.02 L1135.47 184.26 L1137.97 185.56 L1140.48 186.91 L1142.99 188.33 L1145.5 189.81 L1148 191.35 L1150.51 192.96 L1153.02 194.64 L1155.53 196.39 L1158.03 198.22 L1160.54 200.12 L1163.05 202.09 L1165.56 204.15 L1168.06 206.29 L1170.57 208.5 L1173.08 210.81 L1175.59 213.2 L1178.09 215.67 L1180.6 218.24 L1183.11 220.9 L1185.61 223.64 L1188.12 226.48 L1190.63 229.41 L1193.14 232.44 L1195.64 235.55 L1198.15 238.76 L1200.66 242.06 L1203.17 245.46 L1205.67 248.94 L1208.18 252.52 L1210.69 256.18 L1213.2 259.93 L1215.7 263.76 L1218.21 267.68 L1220.72 271.67 L1223.23 275.74 L1225.73 279.88 L1228.24 284.09 L1230.75 288.36 L1233.26 292.7 L1235.76 297.08 L1238.27 301.52 L1240.78 306 L1243.28 310.52 L1245.79 315.08 L1248.3 319.66 L1250.81 324.26 L1253.31 328.87 L1255.82 333.5 L1258.33 338.13 L1260.84 342.75 L1263.34 347.37 L1265.85 351.96 L1268.36 356.54 L1270.87 361.08 L1273.37 365.6 L1275.88 370.07 L1278.39 374.49 L1280.9 378.87 L1283.4 383.19 L1285.91 387.45 L1288.42 391.64 L1290.92 395.77 L1293.43 399.82 L1295.94 403.8 L1298.45 407.7 L1300.95 411.51 L1303.46 415.24 L1305.97 418.89 L1308.48 422.44 L1310.98 425.9 L1313.49 429.28 L1316 432.56 L1318.51 435.75 L1321.01 438.85 L1323.52 441.85 L1326.03 444.76 L1328.54 447.58 L1331.04 450.3 L1333.55 452.94 L1336.06 455.49 L1338.57 457.94 L1341.07 460.31 L1343.58 462.6 L1346.09 464.8 L1348.59 466.92 L1351.1 468.95 L1353.61 470.91 L1356.12 472.8 L1358.62 474.6 L1361.13 476.34 L1363.64 478 L1366.15 479.6 L1368.65 481.13 L1371.16 482.59 L1373.67 484 L1376.18 485.34 L1378.68 486.63 L1381.19 487.85 L1383.7 489.03 L1386.21 490.15 L1388.71 491.23 L1391.22 492.25 L1393.73 493.23 L1396.24 494.16 L1398.74 495.05 L1401.25 495.91 L1403.76 496.72 L1406.26 497.49 L1408.77 498.23 L1411.28 498.93 L1413.79 499.6 L1416.29 500.24 L1418.8 500.85 L1421.31 501.43 L1423.82 501.98 L1426.32 502.5 L1428.83 503 L1431.34 503.48 L1433.85 503.93 L1436.35 504.36 L1438.86 504.77 L1441.37 505.16 L1443.88 505.53 L1446.38 505.88 L1448.89 506.22 L1451.4 506.54 L1453.91 506.84 L1456.41 507.13 L1458.92 507.4 L1461.43 507.67 L1463.93 507.91 L1466.44 508.15 L1468.95 508.37 L1471.46 508.58 L1473.96 508.79 L1476.47 508.98 L1478.98 509.16 L1481.49 509.33 L1483.99 509.5 L1486.5 509.66 L1489.01 509.8 L1491.52 509.95 L1494.02 510.08 L1496.53 510.21 L1499.04 510.33 L1501.55 510.44 L1504.05 510.55 L1506.56 510.66 L1509.07 510.75 L1511.57 510.85 L1514.08 510.94 L1516.59 511.02 L1519.1 511.1 L1521.6 511.18 L1524.11 511.25 L1526.62 511.32 L1529.13 511.38 L1531.63 511.44 L1534.14 511.5 L1536.65 511.56 L1539.16 511.61 L1541.66 511.66 L1544.17 511.71 L1546.68 511.75 L1549.19 511.8 L1551.69 511.84 L1554.2 511.88 L1556.71 511.91 L1559.22 511.95 L1561.72 511.98 L1564.23 512.01 L1566.74 512.04 L1569.24 512.07 L1571.75 512.1 L1574.26 512.12 L1576.77 512.15 L1579.27 512.17 L1581.78 512.19 L1584.29 512.21 L1586.8 512.23 L1589.3 512.25 L1591.81 512.27 L1594.32 512.29 L1596.83 512.3 L1599.33 512.32 L1601.84 512.33 L1604.35 512.34 L1606.86 512.36 L1609.36 512.37 L1611.87 512.38 L1614.38 512.39 L1616.89 512.4 L1619.39 512.41 L1621.9 512.42" stroke="#000" stroke-width="4.0" fill="none" stroke-dasharray="0 7.9" stroke-linecap="round"/>
<path d="M996.8 158.04V139.85M990.6 158.04H1003M990.6 139.85H1003" stroke="#000" stroke-width="1.4" fill="none"/>
<path d="M1143.82 110.21V100.22M1137.62 110.21H1150.02M1137.62 100.22H1150.02" stroke="#000" stroke-width="1.4" fill="none"/>
<path d="M1143.82 201V186.84M1137.62 201H1150.02M1137.62 186.84H1150.02" stroke="#000" stroke-width="1.4" fill="none"/>
<path d="M1217.37 281.63V272.91M1211.17 281.63H1223.57M1211.17 272.91H1223.57" stroke="#000" stroke-width="1.4" fill="none"/>
<path d="M1364.47 447.23V443.6M1358.27 447.23H1370.67M1358.27 443.6H1370.67" stroke="#000" stroke-width="1.4" fill="none"/>
<path d="M1438.02 492.99V490.81M1431.82 492.99H1444.22M1431.82 490.81H1444.22" stroke="#000" stroke-width="1.4" fill="none"/>
<circle cx="996.8" cy="149.43" r="5.2" fill="#fff" stroke="#000" stroke-width="1.6"/>
<circle cx="1143.82" cy="105.13" r="5.2" fill="#fff" stroke="#000" stroke-width="1.6"/>
<circle cx="1217.37" cy="224.25" r="5.2" fill="#fff" stroke="#000" stroke-width="1.6"/>
<circle cx="1290.92" cy="280.54" r="5.2" fill="#fff" stroke="#000" stroke-width="1.6"/>
<circle cx="1364.47" cy="357.89" r="5.2" fill="#fff" stroke="#000" stroke-width="1.6"/>
<circle cx="1438.02" cy="429.43" r="5.2" fill="#fff" stroke="#000" stroke-width="1.6"/>
<circle cx="1511.57" cy="485" r="5.2" fill="#fff" stroke="#000" stroke-width="1.6"/>
<circle cx="996.8" cy="149.43" r="5.9" fill="#000"/>
<circle cx="1143.82" cy="145.44" r="5.9" fill="#000"/>
<circle cx="1217.37" cy="213.53" r="5.9" fill="#000"/>
<circle cx="1290.92" cy="323.03" r="5.9" fill="#000"/>
<circle cx="1364.47" cy="382.11" r="5.9" fill="#000"/>
<circle cx="1438.02" cy="460.67" r="5.9" fill="#000"/>
<circle cx="1585.12" cy="512.24" r="5.9" fill="#000"/>
<path d="M990.8 144.73H1002.8L996.8 154.13Z" fill="#000"/>
<path d="M1137.82 188.31H1149.82L1143.82 197.71Z" fill="#000"/>
<path d="M1211.37 270.93H1223.37L1217.37 280.33Z" fill="#000"/>
<path d="M1284.92 395.32H1296.92L1290.92 404.72Z" fill="#000"/>
<path d="M1358.47 440.9H1370.47L1364.47 450.3Z" fill="#000"/>
<path d="M1432.02 487.2H1444.02L1438.02 496.6Z" fill="#000"/>
<path d="M1505.57 499.18H1517.57L1511.57 508.58Z" fill="#000"/>
<path d="M1579.12 507.9H1591.12L1585.12 517.3Z" fill="#000"/>
<path d="M1360.6 117.5H1446.6" stroke="#000" stroke-width="1.15" fill="none"/>
<circle cx="1402.7" cy="117.3" r="8" fill="#000"/>
<text x="1466.5" y="130.7" font-size="38.3">H2A</text>
<path d="M1360.6 163.5H1446.6" stroke="#000" stroke-width="1.15" fill="none" stroke-dasharray="18 7.4"/>
<circle cx="1402.7" cy="163" r="6.4" fill="#fff" stroke="#000" stroke-width="1.6"/>
<text x="1466.5" y="176.4" font-size="38.3">H2A.X</text>
<path d="M1360.6 210.5H1446.6" stroke="#000" stroke-width="4.0" fill="none" stroke-dasharray="0 7.9" stroke-linecap="round"/>
<path d="M1395 202.3H1410.4L1402.7 218.3Z" fill="#000"/>
<text x="1466.5" y="223.7" font-size="38.3"><tspan font-family="Liberation Serif, serif">γ</tspan>H2A.X</text>
<path d="M133.8 839.16 L136.59 839.16 L139.39 839.16 L142.18 839.17 L144.98 839.17 L147.77 839.17 L150.56 839.17 L153.36 839.17 L156.15 839.18 L158.95 839.18 L161.74 839.18 L164.54 839.19 L167.33 839.19 L170.12 839.19 L172.92 839.2 L175.71 839.2 L178.51 839.21 L181.3 839.21 L184.09 839.22 L186.89 839.22 L189.68 839.23 L192.48 839.23 L195.27 839.24 L198.06 839.25 L200.86 839.25 L203.65 839.26 L206.45 839.27 L209.24 839.28 L212.03 839.29 L214.83 839.3 L217.62 839.31 L220.42 839.32 L223.21 839.33 L226.01 839.35 L228.8 839.36 L231.59 839.37 L234.39 839.39 L237.18 839.41 L239.98 839.42 L242.77 839.44 L245.56 839.46 L248.36 839.48 L251.15 839.51 L253.95 839.53 L256.74 839.56 L259.53 839.58 L262.33 839.61 L265.12 839.64 L267.92 839.68 L270.71 839.71 L273.5 839.75 L276.3 839.79 L279.09 839.83 L281.89 839.87 L284.68 839.92 L287.48 839.97 L290.27 840.03 L293.06 840.09 L295.86 840.15 L298.65 840.21 L301.45 840.28 L304.24 840.36 L307.03 840.43 L309.83 840.52 L312.62 840.61 L315.42 840.7 L318.21 840.8 L321 840.91 L323.8 841.02 L326.59 841.15 L329.39 841.28 L332.18 841.41 L334.97 841.56 L337.77 841.72 L340.56 841.88 L343.36 842.06 L346.15 842.25 L348.95 842.44 L351.74 842.66 L354.53 842.88 L357.33 843.12 L360.12 843.38 L362.92 843.65 L365.71 843.94 L368.5 844.24 L371.3 844.57 L374.09 844.91 L376.89 845.28 L379.68 845.67 L382.47 846.09 L385.27 846.53 L388.06 846.99 L390.86 847.49 L393.65 848.02 L396.44 848.58 L399.24 849.17 L402.03 849.8 L404.83 850.47 L407.62 851.18 L410.42 851.93 L413.21 852.73 L416 853.57 L418.8 854.47 L421.59 855.41 L424.39 856.42 L427.18 857.48 L429.97 858.6 L432.77 859.79 L435.56 861.05 L438.36 862.37 L441.15 863.78 L443.94 865.26 L446.74 866.82 L449.53 868.47 L452.33 870.2 L455.12 872.03 L457.91 873.96 L460.71 875.99 L463.5 878.12 L466.3 880.36 L469.09 882.71 L471.89 885.17 L474.68 887.76 L477.47 890.47 L480.27 893.3 L483.06 896.26 L485.86 899.35 L488.65 902.58 L491.44 905.94 L494.24 909.43 L497.03 913.07 L499.83 916.84 L502.62 920.76 L505.41 924.81 L508.21 929 L511 933.33 L513.8 937.8 L516.59 942.39 L519.38 947.12 L522.18 951.97 L524.97 956.94 L527.77 962.02 L530.56 967.21 L533.36 972.51 L536.15 977.89 L538.94 983.36 L541.74 988.91 L544.53 994.52 L547.33 1000.19 L550.12 1005.9 L552.91 1011.65 L555.71 1017.43 L558.5 1023.21 L561.3 1029 L564.09 1034.78 L566.88 1040.54 L569.68 1046.26 L572.47 1051.94 L575.27 1057.57 L578.06 1063.14 L580.85 1068.63 L583.65 1074.03 L586.44 1079.35 L589.24 1084.57 L592.03 1089.68 L594.83 1094.68 L597.62 1099.57 L600.41 1104.32 L603.21 1108.95 L606 1113.45 L608.8 1117.82 L611.59 1122.05 L614.38 1126.14 L617.18 1130.09 L619.97 1133.9 L622.77 1137.57 L625.56 1141.1 L628.35 1144.5 L631.15 1147.76 L633.94 1150.88 L636.74 1153.88 L639.53 1156.74 L642.32 1159.48 L645.12 1162.1 L647.91 1164.59 L650.71 1166.98 L653.5 1169.24 L656.29 1171.4 L659.09 1173.46 L661.88 1175.41 L664.68 1177.26 L667.47 1179.02 L670.27 1180.69 L673.06 1182.28 L675.85 1183.78 L678.65 1185.2 L681.44 1186.55 L684.24 1187.82 L687.03 1189.03 L689.82 1190.17 L692.62 1191.25 L695.41 1192.26 L698.21 1193.23 L701 1194.13 L703.79 1194.99 L706.59 1195.8 L709.38 1196.56 L712.18 1197.28 L714.97 1197.96 L717.77 1198.6 L720.56 1199.21 L723.35 1199.77 L726.15 1200.31 L728.94 1200.81 L731.74 1201.29 L734.53 1201.74 L737.32 1202.16 L740.12 1202.55 L742.91 1202.93 L745.71 1203.28 L748.5 1203.61" stroke="#000" stroke-width="1.15" fill="none"/>
<path d="M133.8 839.13 L136.59 839.13 L139.39 839.13 L142.18 839.13 L144.98 839.13 L147.77 839.13 L150.56 839.13 L153.36 839.13 L156.15 839.13 L158.95 839.13 L161.74 839.13 L164.54 839.13 L167.33 839.13 L170.12 839.13 L172.92 839.13 L175.71 839.13 L178.51 839.13 L181.3 839.13 L184.09 839.13 L186.89 839.13 L189.68 839.13 L192.48 839.13 L195.27 839.13 L198.06 839.13 L200.86 839.13 L203.65 839.13 L206.45 839.13 L209.24 839.13 L212.03 839.13 L214.83 839.13 L217.62 839.13 L220.42 839.13 L223.21 839.13 L226.01 839.13 L228.8 839.13 L231.59 839.13 L234.39 839.13 L237.18 839.13 L239.98 839.13 L242.77 839.14 L245.56 839.14 L248.36 839.14 L251.15 839.14 L253.95 839.14 L256.74 839.14 L259.53 839.14 L262.33 839.14 L265.12 839.14 L267.92 839.14 L270.71 839.14 L273.5 839.14 L276.3 839.14 L279.09 839.14 L281.89 839.14 L284.68 839.14 L287.48 839.14 L290.27 839.14 L293.06 839.14 L295.86 839.14 L298.65 839.14 L301.45 839.14 L304.24 839.15 L307.03 839.15 L309.83 839.15 L312.62 839.15 L315.42 839.15 L318.21 839.15 L321 839.15 L323.8 839.16 L326.59 839.16 L329.39 839.16 L332.18 839.16 L334.97 839.17 L337.77 839.17 L340.56 839.17 L343.36 839.18 L346.15 839.18 L348.95 839.19 L351.74 839.19 L354.53 839.2 L357.33 839.2 L360.12 839.21 L362.92 839.22 L365.71 839.22 L368.5 839.23 L371.3 839.24 L374.09 839.25 L376.89 839.26 L379.68 839.28 L382.47 839.29 L385.27 839.3 L388.06 839.32 L390.86 839.34 L393.65 839.36 L396.44 839.38 L399.24 839.4 L402.03 839.43 L404.83 839.46 L407.62 839.49 L410.42 839.52 L413.21 839.56 L416 839.6 L418.8 839.64 L421.59 839.69 L424.39 839.74 L427.18 839.8 L429.97 839.86 L432.77 839.93 L435.56 840.01 L438.36 840.09 L441.15 840.18 L443.94 840.28 L446.74 840.39 L449.53 840.51 L452.33 840.64 L455.12 840.78 L457.91 840.93 L460.71 841.1 L463.5 841.29 L466.3 841.49 L469.09 841.71 L471.89 841.96 L474.68 842.22 L477.47 842.51 L480.27 842.83 L483.06 843.18 L485.86 843.56 L488.65 843.97 L491.44 844.43 L494.24 844.92 L497.03 845.46 L499.83 846.05 L502.62 846.69 L505.41 847.39 L508.21 848.16 L511 848.99 L513.8 849.9 L516.59 850.89 L519.38 851.97 L522.18 853.14 L524.97 854.42 L527.77 855.8 L530.56 857.31 L533.36 858.94 L536.15 860.71 L538.94 862.63 L541.74 864.7 L544.53 866.95 L547.33 869.37 L550.12 871.99 L552.91 874.8 L555.71 877.84 L558.5 881.09 L561.3 884.59 L564.09 888.33 L566.88 892.32 L569.68 896.59 L572.47 901.13 L575.27 905.95 L578.06 911.06 L580.85 916.45 L583.65 922.15 L586.44 928.13 L589.24 934.4 L592.03 940.95 L594.83 947.78 L597.62 954.86 L600.41 962.19 L603.21 969.74 L606 977.5 L608.8 985.43 L611.59 993.52 L614.38 1001.73 L617.18 1010.03 L619.97 1018.38 L622.77 1026.76 L625.56 1035.13 L628.35 1043.45 L631.15 1051.69 L633.94 1059.83 L636.74 1067.81 L639.53 1075.63 L642.32 1083.26 L645.12 1090.66 L647.91 1097.83 L650.71 1104.74 L653.5 1111.39 L656.29 1117.75 L659.09 1123.83 L661.88 1129.62 L664.68 1135.12 L667.47 1140.32 L670.27 1145.24 L673.06 1149.87 L675.85 1154.22 L678.65 1158.31 L681.44 1162.13 L684.24 1165.71 L687.03 1169.04 L689.82 1172.15 L692.62 1175.03 L695.41 1177.71 L698.21 1180.2 L701 1182.5 L703.79 1184.63 L706.59 1186.6 L709.38 1188.42 L712.18 1190.1 L714.97 1191.64 L717.77 1193.07 L720.56 1194.38 L723.35 1195.58 L726.15 1196.69 L728.94 1197.71 L731.74 1198.65 L734.53 1199.5 L737.32 1200.29 L740.12 1201.01 L742.91 1201.68 L745.71 1202.28 L748.5 1202.84" stroke="#000" stroke-width="1.15" fill="none" stroke-dasharray="18 7.4"/>
<path d="M133.8 844.68V833.59M127.6 844.68H140M127.6 833.59H140" stroke="#000" stroke-width="1.4" fill="none"/>
<circle cx="133.8" cy="839.13" r="5.9" fill="#000"/>
<circle cx="268.27" cy="831.37" r="5.9" fill="#000"/>
<circle cx="345.1" cy="899.02" r="5.9" fill="#000"/>
<circle cx="421.94" cy="901.61" r="5.9" fill="#000"/>
<circle cx="498.78" cy="909" r="5.9" fill="#000"/>
<circle cx="575.62" cy="1064.41" r="5.9" fill="#000"/>
<circle cx="652.45" cy="1162.41" r="5.9" fill="#000"/>
<circle cx="729.29" cy="1208.8" r="5.9" fill="#000"/>
<circle cx="133.8" cy="839.13" r="5.2" fill="#fff" stroke="#000" stroke-width="1.6"/>
<circle cx="268.27" cy="848.01" r="5.2" fill="#fff" stroke="#000" stroke-width="1.6"/>
<circle cx="345.1" cy="878.69" r="5.2" fill="#fff" stroke="#000" stroke-width="1.6"/>
<circle cx="421.94" cy="857.25" r="5.2" fill="#fff" stroke="#000" stroke-width="1.6"/>
<circle cx="498.78" cy="900.87" r="5.2" fill="#fff" stroke="#000" stroke-width="1.6"/>
<circle cx="575.62" cy="883.12" r="5.2" fill="#fff" stroke="#000" stroke-width="1.6"/>
<circle cx="652.45" cy="1123.41" r="5.2" fill="#fff" stroke="#000" stroke-width="1.6"/>
<circle cx="729.29" cy="1208.06" r="5.2" fill="#fff" stroke="#000" stroke-width="1.6"/>
<path d="M160.7 1115.5H247" stroke="#000" stroke-width="1.15" fill="none"/>
<circle cx="203.2" cy="1115" r="8" fill="#000"/>
<text x="268.2" y="1128.4" font-size="38.3">H3K4me3</text>
<path d="M160.7 1160.5H247" stroke="#000" stroke-width="1.15" fill="none" stroke-dasharray="18 7.4"/>
<circle cx="203.2" cy="1160.2" r="6.4" fill="#fff" stroke="#000" stroke-width="1.6"/>
<text x="268.2" y="1173.6" font-size="38.3">H3K27me3</text>
<path d="M1006 841.55 L1008.8 841.55 L1011.59 841.55 L1014.39 841.55 L1017.18 841.55 L1019.98 841.55 L1022.77 841.55 L1025.57 841.55 L1028.36 841.55 L1031.16 841.55 L1033.95 841.55 L1036.75 841.55 L1039.55 841.55 L1042.34 841.55 L1045.14 841.55 L1047.93 841.55 L1050.73 841.55 L1053.52 841.55 L1056.32 841.55 L1059.11 841.56 L1061.91 841.56 L1064.7 841.56 L1067.5 841.56 L1070.3 841.56 L1073.09 841.56 L1075.89 841.56 L1078.68 841.56 L1081.48 841.56 L1084.27 841.56 L1087.07 841.56 L1089.86 841.56 L1092.66 841.56 L1095.45 841.57 L1098.25 841.57 L1101.05 841.57 L1103.84 841.57 L1106.64 841.57 L1109.43 841.57 L1112.23 841.58 L1115.02 841.58 L1117.82 841.58 L1120.61 841.58 L1123.41 841.58 L1126.2 841.59 L1129 841.59 L1131.8 841.59 L1134.59 841.6 L1137.39 841.6 L1140.18 841.61 L1142.98 841.61 L1145.77 841.62 L1148.57 841.62 L1151.36 841.63 L1154.16 841.63 L1156.95 841.64 L1159.75 841.65 L1162.55 841.66 L1165.34 841.67 L1168.14 841.68 L1170.93 841.69 L1173.73 841.7 L1176.52 841.71 L1179.32 841.72 L1182.11 841.74 L1184.91 841.75 L1187.7 841.77 L1190.5 841.79 L1193.3 841.81 L1196.09 841.83 L1198.89 841.86 L1201.68 841.88 L1204.48 841.91 L1207.27 841.94 L1210.07 841.97 L1212.86 842.01 L1215.66 842.05 L1218.45 842.09 L1221.25 842.14 L1224.05 842.18 L1226.84 842.24 L1229.64 842.3 L1232.43 842.36 L1235.23 842.43 L1238.02 842.5 L1240.82 842.58 L1243.61 842.67 L1246.41 842.76 L1249.2 842.86 L1252 842.97 L1254.8 843.09 L1257.59 843.22 L1260.39 843.36 L1263.18 843.51 L1265.98 843.67 L1268.77 843.85 L1271.57 844.04 L1274.36 844.25 L1277.16 844.48 L1279.95 844.72 L1282.75 844.99 L1285.55 845.27 L1288.34 845.58 L1291.14 845.92 L1293.93 846.28 L1296.73 846.67 L1299.52 847.1 L1302.32 847.56 L1305.11 848.05 L1307.91 848.59 L1310.7 849.17 L1313.5 849.8 L1316.3 850.48 L1319.09 851.21 L1321.89 852 L1324.68 852.85 L1327.48 853.77 L1330.27 854.76 L1333.07 855.83 L1335.86 856.98 L1338.66 858.22 L1341.45 859.56 L1344.25 860.99 L1347.05 862.53 L1349.84 864.19 L1352.64 865.97 L1355.43 867.88 L1358.23 869.93 L1361.02 872.12 L1363.82 874.46 L1366.61 876.96 L1369.41 879.64 L1372.2 882.49 L1375 885.52 L1377.8 888.75 L1380.59 892.18 L1383.39 895.81 L1386.18 899.66 L1388.98 903.73 L1391.77 908.02 L1394.57 912.54 L1397.36 917.29 L1400.16 922.27 L1402.95 927.48 L1405.75 932.92 L1408.55 938.59 L1411.34 944.48 L1414.14 950.59 L1416.93 956.9 L1419.73 963.4 L1422.52 970.09 L1425.32 976.94 L1428.11 983.94 L1430.91 991.07 L1433.7 998.31 L1436.5 1005.64 L1439.3 1013.04 L1442.09 1020.48 L1444.89 1027.94 L1447.68 1035.39 L1450.48 1042.81 L1453.27 1050.18 L1456.07 1057.47 L1458.86 1064.66 L1461.66 1071.73 L1464.45 1078.67 L1467.25 1085.44 L1470.05 1092.04 L1472.84 1098.46 L1475.64 1104.67 L1478.43 1110.68 L1481.23 1116.46 L1484.02 1122.03 L1486.82 1127.36 L1489.61 1132.46 L1492.41 1137.34 L1495.2 1141.98 L1498 1146.39 L1500.8 1150.57 L1503.59 1154.53 L1506.39 1158.28 L1509.18 1161.82 L1511.98 1165.15 L1514.77 1168.29 L1517.57 1171.23 L1520.36 1174 L1523.16 1176.59 L1525.95 1179.02 L1528.75 1181.29 L1531.55 1183.41 L1534.34 1185.39 L1537.14 1187.23 L1539.93 1188.96 L1542.73 1190.56 L1545.52 1192.05 L1548.32 1193.44 L1551.11 1194.73 L1553.91 1195.92 L1556.7 1197.04 L1559.5 1198.07 L1562.3 1199.02 L1565.09 1199.91 L1567.89 1200.73 L1570.68 1201.5 L1573.48 1202.2 L1576.27 1202.85 L1579.07 1203.46 L1581.86 1204.02 L1584.66 1204.54 L1587.45 1205.01 L1590.25 1205.46 L1593.05 1205.87 L1595.84 1206.24 L1598.64 1206.59 L1601.43 1206.92 L1604.23 1207.22 L1607.02 1207.49 L1609.82 1207.75 L1612.61 1207.98 L1615.41 1208.2 L1618.2 1208.4 L1621 1208.58" stroke="#000" stroke-width="1.15" fill="none"/>
<path d="M1006 841.55 L1008.8 841.55 L1011.59 841.55 L1014.39 841.55 L1017.18 841.55 L1019.98 841.55 L1022.77 841.55 L1025.57 841.55 L1028.36 841.56 L1031.16 841.56 L1033.95 841.56 L1036.75 841.56 L1039.55 841.56 L1042.34 841.56 L1045.14 841.56 L1047.93 841.56 L1050.73 841.56 L1053.52 841.56 L1056.32 841.56 L1059.11 841.56 L1061.91 841.56 L1064.7 841.56 L1067.5 841.57 L1070.3 841.57 L1073.09 841.57 L1075.89 841.57 L1078.68 841.57 L1081.48 841.57 L1084.27 841.57 L1087.07 841.58 L1089.86 841.58 L1092.66 841.58 L1095.45 841.58 L1098.25 841.58 L1101.05 841.59 L1103.84 841.59 L1106.64 841.59 L1109.43 841.6 L1112.23 841.6 L1115.02 841.6 L1117.82 841.61 L1120.61 841.61 L1123.41 841.62 L1126.2 841.62 L1129 841.63 L1131.8 841.64 L1134.59 841.64 L1137.39 841.65 L1140.18 841.66 L1142.98 841.66 L1145.77 841.67 L1148.57 841.68 L1151.36 841.69 L1154.16 841.71 L1156.95 841.72 L1159.75 841.73 L1162.55 841.74 L1165.34 841.76 L1168.14 841.78 L1170.93 841.79 L1173.73 841.81 L1176.52 841.83 L1179.32 841.86 L1182.11 841.88 L1184.91 841.9 L1187.7 841.93 L1190.5 841.96 L1193.3 841.99 L1196.09 842.03 L1198.89 842.07 L1201.68 842.11 L1204.48 842.15 L1207.27 842.2 L1210.07 842.25 L1212.86 842.3 L1215.66 842.36 L1218.45 842.42 L1221.25 842.49 L1224.05 842.57 L1226.84 842.64 L1229.64 842.73 L1232.43 842.82 L1235.23 842.92 L1238.02 843.03 L1240.82 843.14 L1243.61 843.27 L1246.41 843.4 L1249.2 843.54 L1252 843.7 L1254.8 843.86 L1257.59 844.04 L1260.39 844.24 L1263.18 844.44 L1265.98 844.67 L1268.77 844.91 L1271.57 845.17 L1274.36 845.45 L1277.16 845.75 L1279.95 846.07 L1282.75 846.42 L1285.55 846.8 L1288.34 847.2 L1291.14 847.64 L1293.93 848.1 L1296.73 848.61 L1299.52 849.15 L1302.32 849.73 L1305.11 850.35 L1307.91 851.02 L1310.7 851.74 L1313.5 852.51 L1316.3 853.34 L1319.09 854.23 L1321.89 855.18 L1324.68 856.2 L1327.48 857.3 L1330.27 858.47 L1333.07 859.73 L1335.86 861.08 L1338.66 862.51 L1341.45 864.05 L1344.25 865.69 L1347.05 867.45 L1349.84 869.32 L1352.64 871.31 L1355.43 873.44 L1358.23 875.7 L1361.02 878.1 L1363.82 880.65 L1366.61 883.36 L1369.41 886.23 L1372.2 889.27 L1375 892.49 L1377.8 895.88 L1380.59 899.46 L1383.39 903.22 L1386.18 907.19 L1388.98 911.34 L1391.77 915.7 L1394.57 920.26 L1397.36 925.02 L1400.16 929.97 L1402.95 935.13 L1405.75 940.48 L1408.55 946.02 L1411.34 951.75 L1414.14 957.65 L1416.93 963.72 L1419.73 969.94 L1422.52 976.31 L1425.32 982.81 L1428.11 989.42 L1430.91 996.14 L1433.7 1002.94 L1436.5 1009.8 L1439.3 1016.71 L1442.09 1023.64 L1444.89 1030.58 L1447.68 1037.51 L1450.48 1044.41 L1453.27 1051.26 L1456.07 1058.03 L1458.86 1064.72 L1461.66 1071.31 L1464.45 1077.77 L1467.25 1084.1 L1470.05 1090.29 L1472.84 1096.31 L1475.64 1102.17 L1478.43 1107.84 L1481.23 1113.33 L1484.02 1118.63 L1486.82 1123.73 L1489.61 1128.64 L1492.41 1133.34 L1495.2 1137.85 L1498 1142.15 L1500.8 1146.25 L1503.59 1150.16 L1506.39 1153.88 L1509.18 1157.41 L1511.98 1160.75 L1514.77 1163.92 L1517.57 1166.91 L1520.36 1169.73 L1523.16 1172.4 L1525.95 1174.91 L1528.75 1177.28 L1531.55 1179.5 L1534.34 1181.59 L1537.14 1183.55 L1539.93 1185.39 L1542.73 1187.11 L1545.52 1188.72 L1548.32 1190.23 L1551.11 1191.65 L1553.91 1192.97 L1556.7 1194.2 L1559.5 1195.35 L1562.3 1196.43 L1565.09 1197.43 L1567.89 1198.37 L1570.68 1199.24 L1573.48 1200.05 L1576.27 1200.81 L1579.07 1201.52 L1581.86 1202.17 L1584.66 1202.79 L1587.45 1203.35 L1590.25 1203.88 L1593.05 1204.38 L1595.84 1204.83 L1598.64 1205.26 L1601.43 1205.66 L1604.23 1206.02 L1607.02 1206.37 L1609.82 1206.68 L1612.61 1206.98 L1615.41 1207.25 L1618.2 1207.51 L1621 1207.74" stroke="#000" stroke-width="1.15" fill="none" stroke-dasharray="18 7.4"/>
<path d="M1006 841.55 L1008.8 841.55 L1011.59 841.55 L1014.39 841.55 L1017.18 841.55 L1019.98 841.55 L1022.77 841.55 L1025.57 841.55 L1028.36 841.55 L1031.16 841.55 L1033.95 841.55 L1036.75 841.55 L1039.55 841.55 L1042.34 841.55 L1045.14 841.55 L1047.93 841.55 L1050.73 841.55 L1053.52 841.55 L1056.32 841.55 L1059.11 841.55 L1061.91 841.55 L1064.7 841.55 L1067.5 841.55 L1070.3 841.55 L1073.09 841.55 L1075.89 841.55 L1078.68 841.55 L1081.48 841.55 L1084.27 841.55 L1087.07 841.55 L1089.86 841.55 L1092.66 841.55 L1095.45 841.55 L1098.25 841.55 L1101.05 841.55 L1103.84 841.55 L1106.64 841.55 L1109.43 841.55 L1112.23 841.55 L1115.02 841.55 L1117.82 841.55 L1120.61 841.55 L1123.41 841.55 L1126.2 841.55 L1129 841.55 L1131.8 841.55 L1134.59 841.55 L1137.39 841.55 L1140.18 841.55 L1142.98 841.55 L1145.77 841.55 L1148.57 841.55 L1151.36 841.55 L1154.16 841.55 L1156.95 841.55 L1159.75 841.55 L1162.55 841.56 L1165.34 841.56 L1168.14 841.56 L1170.93 841.56 L1173.73 841.56 L1176.52 841.56 L1179.32 841.56 L1182.11 841.56 L1184.91 841.56 L1187.7 841.56 L1190.5 841.56 L1193.3 841.56 L1196.09 841.56 L1198.89 841.57 L1201.68 841.57 L1204.48 841.57 L1207.27 841.57 L1210.07 841.57 L1212.86 841.57 L1215.66 841.58 L1218.45 841.58 L1221.25 841.58 L1224.05 841.59 L1226.84 841.59 L1229.64 841.59 L1232.43 841.6 L1235.23 841.6 L1238.02 841.6 L1240.82 841.61 L1243.61 841.61 L1246.41 841.62 L1249.2 841.63 L1252 841.63 L1254.8 841.64 L1257.59 841.65 L1260.39 841.66 L1263.18 841.67 L1265.98 841.68 L1268.77 841.69 L1271.57 841.7 L1274.36 841.72 L1277.16 841.73 L1279.95 841.75 L1282.75 841.77 L1285.55 841.79 L1288.34 841.81 L1291.14 841.83 L1293.93 841.86 L1296.73 841.89 L1299.52 841.92 L1302.32 841.95 L1305.11 841.99 L1307.91 842.03 L1310.7 842.07 L1313.5 842.12 L1316.3 842.17 L1319.09 842.23 L1321.89 842.29 L1324.68 842.36 L1327.48 842.43 L1330.27 842.52 L1333.07 842.6 L1335.86 842.7 L1338.66 842.8 L1341.45 842.92 L1344.25 843.04 L1347.05 843.18 L1349.84 843.33 L1352.64 843.49 L1355.43 843.66 L1358.23 843.85 L1361.02 844.06 L1363.82 844.29 L1366.61 844.54 L1369.41 844.81 L1372.2 845.1 L1375 845.42 L1377.8 845.77 L1380.59 846.16 L1383.39 846.57 L1386.18 847.02 L1388.98 847.51 L1391.77 848.05 L1394.57 848.63 L1397.36 849.27 L1400.16 849.96 L1402.95 850.71 L1405.75 851.52 L1408.55 852.41 L1411.34 853.37 L1414.14 854.42 L1416.93 855.55 L1419.73 856.78 L1422.52 858.11 L1425.32 859.56 L1428.11 861.12 L1430.91 862.82 L1433.7 864.65 L1436.5 866.63 L1439.3 868.76 L1442.09 871.07 L1444.89 873.55 L1447.68 876.23 L1450.48 879.1 L1453.27 882.19 L1456.07 885.5 L1458.86 889.04 L1461.66 892.83 L1464.45 896.88 L1467.25 901.19 L1470.05 905.78 L1472.84 910.64 L1475.64 915.8 L1478.43 921.25 L1481.23 926.99 L1484.02 933.03 L1486.82 939.36 L1489.61 945.99 L1492.41 952.89 L1495.2 960.07 L1498 967.5 L1500.8 975.18 L1503.59 983.07 L1506.39 991.16 L1509.18 999.42 L1511.98 1007.83 L1514.77 1016.34 L1517.57 1024.92 L1520.36 1033.55 L1523.16 1042.18 L1525.95 1050.77 L1528.75 1059.3 L1531.55 1067.72 L1534.34 1075.99 L1537.14 1084.1 L1539.93 1092 L1542.73 1099.67 L1545.52 1107.08 L1548.32 1114.22 L1551.11 1121.06 L1553.91 1127.6 L1556.7 1133.82 L1559.5 1139.72 L1562.3 1145.3 L1565.09 1150.55 L1567.89 1155.47 L1570.68 1160.08 L1573.48 1164.39 L1576.27 1168.39 L1579.07 1172.1 L1581.86 1175.54 L1584.66 1178.71 L1587.45 1181.63 L1590.25 1184.32 L1593.05 1186.78 L1595.84 1189.04 L1598.64 1191.1 L1601.43 1192.99 L1604.23 1194.7 L1607.02 1196.27 L1609.82 1197.69 L1612.61 1198.98 L1615.41 1200.14 L1618.2 1201.2 L1621 1202.16" stroke="#000" stroke-width="4.0" fill="none" stroke-dasharray="0 7.9" stroke-linecap="round"/>
<path d="M1006 841.55 L1008.8 841.55 L1011.59 841.55 L1014.39 841.55 L1017.18 841.55 L1019.98 841.55 L1022.77 841.55 L1025.57 841.55 L1028.36 841.55 L1031.16 841.55 L1033.95 841.55 L1036.75 841.55 L1039.55 841.55 L1042.34 841.55 L1045.14 841.55 L1047.93 841.55 L1050.73 841.55 L1053.52 841.55 L1056.32 841.55 L1059.11 841.55 L1061.91 841.55 L1064.7 841.55 L1067.5 841.55 L1070.3 841.55 L1073.09 841.55 L1075.89 841.55 L1078.68 841.55 L1081.48 841.55 L1084.27 841.55 L1087.07 841.55 L1089.86 841.55 L1092.66 841.55 L1095.45 841.55 L1098.25 841.55 L1101.05 841.55 L1103.84 841.55 L1106.64 841.55 L1109.43 841.55 L1112.23 841.55 L1115.02 841.55 L1117.82 841.55 L1120.61 841.55 L1123.41 841.55 L1126.2 841.55 L1129 841.55 L1131.8 841.55 L1134.59 841.55 L1137.39 841.55 L1140.18 841.55 L1142.98 841.55 L1145.77 841.55 L1148.57 841.55 L1151.36 841.55 L1154.16 841.55 L1156.95 841.55 L1159.75 841.55 L1162.55 841.55 L1165.34 841.55 L1168.14 841.55 L1170.93 841.55 L1173.73 841.55 L1176.52 841.55 L1179.32 841.55 L1182.11 841.55 L1184.91 841.55 L1187.7 841.55 L1190.5 841.55 L1193.3 841.55 L1196.09 841.55 L1198.89 841.55 L1201.68 841.55 L1204.48 841.55 L1207.27 841.55 L1210.07 841.55 L1212.86 841.55 L1215.66 841.55 L1218.45 841.55 L1221.25 841.55 L1224.05 841.55 L1226.84 841.55 L1229.64 841.55 L1232.43 841.55 L1235.23 841.55 L1238.02 841.55 L1240.82 841.55 L1243.61 841.55 L1246.41 841.55 L1249.2 841.55 L1252 841.55 L1254.8 841.55 L1257.59 841.55 L1260.39 841.55 L1263.18 841.55 L1265.98 841.55 L1268.77 841.55 L1271.57 841.55 L1274.36 841.55 L1277.16 841.55 L1279.95 841.55 L1282.75 841.55 L1285.55 841.55 L1288.34 841.55 L1291.14 841.55 L1293.93 841.56 L1296.73 841.56 L1299.52 841.56 L1302.32 841.56 L1305.11 841.56 L1307.91 841.56 L1310.7 841.56 L1313.5 841.56 L1316.3 841.57 L1319.09 841.57 L1321.89 841.57 L1324.68 841.57 L1327.48 841.58 L1330.27 841.58 L1333.07 841.59 L1335.86 841.59 L1338.66 841.6 L1341.45 841.6 L1344.25 841.61 L1347.05 841.62 L1349.84 841.63 L1352.64 841.64 L1355.43 841.66 L1358.23 841.67 L1361.02 841.69 L1363.82 841.71 L1366.61 841.74 L1369.41 841.76 L1372.2 841.79 L1375 841.83 L1377.8 841.87 L1380.59 841.92 L1383.39 841.97 L1386.18 842.03 L1388.98 842.1 L1391.77 842.18 L1394.57 842.27 L1397.36 842.38 L1400.16 842.5 L1402.95 842.64 L1405.75 842.79 L1408.55 842.97 L1411.34 843.18 L1414.14 843.42 L1416.93 843.69 L1419.73 844 L1422.52 844.35 L1425.32 844.75 L1428.11 845.21 L1430.91 845.74 L1433.7 846.34 L1436.5 847.03 L1439.3 847.81 L1442.09 848.7 L1444.89 849.71 L1447.68 850.87 L1450.48 852.18 L1453.27 853.67 L1456.07 855.36 L1458.86 857.27 L1461.66 859.44 L1464.45 861.88 L1467.25 864.63 L1470.05 867.72 L1472.84 871.18 L1475.64 875.05 L1478.43 879.36 L1481.23 884.15 L1484.02 889.44 L1486.82 895.27 L1489.61 901.66 L1492.41 908.62 L1495.2 916.18 L1498 924.31 L1500.8 933.03 L1503.59 942.3 L1506.39 952.09 L1509.18 962.36 L1511.98 973.03 L1514.77 984.05 L1517.57 995.32 L1520.36 1006.77 L1523.16 1018.29 L1525.95 1029.8 L1528.75 1041.21 L1531.55 1052.43 L1534.34 1063.37 L1537.14 1073.98 L1539.93 1084.19 L1542.73 1093.95 L1545.52 1103.23 L1548.32 1112.01 L1551.11 1120.26 L1553.91 1127.99 L1556.7 1135.19 L1559.5 1141.87 L1562.3 1148.06 L1565.09 1153.77 L1567.89 1159.02 L1570.68 1163.83 L1573.48 1168.24 L1576.27 1172.26 L1579.07 1175.94 L1581.86 1179.28 L1584.66 1182.31 L1587.45 1185.07 L1590.25 1187.57 L1593.05 1189.84 L1595.84 1191.89 L1598.64 1193.75 L1601.43 1195.43 L1604.23 1196.94 L1607.02 1198.31 L1609.82 1199.55 L1612.61 1200.66 L1615.41 1201.67 L1618.2 1202.58 L1621 1203.39" stroke="#000" stroke-width="1.15" fill="none" stroke-dasharray="15 4.8 1.3 4 1.3 5"/>
<path d="M1006 851.7V832.5M999.8 851.7H1012.2M999.8 832.5H1012.2" stroke="#000" stroke-width="1.4" fill="none"/>
<path d="M1006 848.57V836.01M999.8 848.57H1012.2M999.8 836.01H1012.2" stroke="#000" stroke-width="1.4" fill="none"/>
<path d="M1140.53 798.35V776.01M1134.33 798.35H1146.73M1134.33 776.01H1146.73" stroke="#000" stroke-width="1.4" fill="none"/>
<path d="M1140.53 826.41V805.36M1134.33 826.41H1146.73M1134.33 805.36H1146.73" stroke="#000" stroke-width="1.4" fill="none"/>
<path d="M1140.53 847.61V830.47M1134.33 847.61H1146.73M1134.33 830.47H1146.73" stroke="#000" stroke-width="1.4" fill="none"/>
<path d="M1140.53 830.47V811.27M1134.33 830.47H1146.73M1134.33 811.27H1146.73" stroke="#000" stroke-width="1.4" fill="none"/>
<path d="M1217.41 796.13V773.61M1211.21 796.13H1223.61M1211.21 773.61H1223.61" stroke="#000" stroke-width="1.4" fill="none"/>
<path d="M1217.41 819.39V790.22M1211.21 819.39H1223.61M1211.21 790.22H1223.61" stroke="#000" stroke-width="1.4" fill="none"/>
<path d="M1217.41 819.39V796.13M1211.21 819.39H1223.61M1211.21 796.13H1223.61" stroke="#000" stroke-width="1.4" fill="none"/>
<path d="M1294.28 800.56V776.19M1288.08 800.56H1300.48M1288.08 776.19H1300.48" stroke="#000" stroke-width="1.4" fill="none"/>
<path d="M1294.28 827.89V803.52M1288.08 827.89H1300.48M1288.08 803.52H1300.48" stroke="#000" stroke-width="1.4" fill="none"/>
<path d="M1294.28 858.31V838.01M1288.08 858.31H1300.48M1288.08 838.01H1300.48" stroke="#000" stroke-width="1.4" fill="none"/>
<path d="M1294.28 836.49V795.39M1288.08 836.49H1300.48M1288.08 795.39H1300.48" stroke="#000" stroke-width="1.4" fill="none"/>
<path d="M1371.16 810.61V779.15M1364.96 810.61H1377.36M1364.96 779.15H1377.36" stroke="#000" stroke-width="1.4" fill="none"/>
<path d="M1371.16 851.15V828.88M1364.96 851.15H1377.36M1364.96 828.88H1377.36" stroke="#000" stroke-width="1.4" fill="none"/>
<path d="M1371.16 897.9V870.5M1364.96 897.9H1377.36M1364.96 870.5H1377.36" stroke="#000" stroke-width="1.4" fill="none"/>
<path d="M1448.03 829.92V800.01M1441.83 829.92H1454.23M1441.83 800.01H1454.23" stroke="#000" stroke-width="1.4" fill="none"/>
<path d="M1448.03 919.09V891.77M1441.83 919.09H1454.23M1441.83 891.77H1454.23" stroke="#000" stroke-width="1.4" fill="none"/>
<path d="M1448.03 1037.25V1016.94M1441.83 1037.25H1454.23M1441.83 1016.94H1454.23" stroke="#000" stroke-width="1.4" fill="none"/>
<path d="M1524.91 1005.5V976.1M1518.71 1005.5H1531.11M1518.71 976.1H1531.11" stroke="#000" stroke-width="1.4" fill="none"/>
<path d="M1524.91 1000.33V992.94M1518.71 1000.33H1531.11M1518.71 992.94H1531.11" stroke="#000" stroke-width="1.4" fill="none"/>
<circle cx="1006" cy="841.55" r="5.9" fill="#000"/>
<circle cx="1140.53" cy="838.6" r="5.9" fill="#000"/>
<circle cx="1217.41" cy="800.19" r="5.9" fill="#000"/>
<circle cx="1294.28" cy="784.32" r="5.9" fill="#000"/>
<circle cx="1371.16" cy="877.59" r="5.9" fill="#000"/>
<circle cx="1448.03" cy="1035.52" r="5.9" fill="#000"/>
<circle cx="1524.91" cy="1145.18" r="5.9" fill="#000"/>
<circle cx="1601.78" cy="1210.8" r="5.9" fill="#000"/>
<circle cx="1006" cy="841.55" r="5.2" fill="#fff" stroke="#000" stroke-width="1.6"/>
<circle cx="1140.53" cy="814.41" r="5.2" fill="#fff" stroke="#000" stroke-width="1.6"/>
<circle cx="1217.41" cy="785.05" r="5.2" fill="#fff" stroke="#000" stroke-width="1.6"/>
<circle cx="1294.28" cy="788.01" r="5.2" fill="#fff" stroke="#000" stroke-width="1.6"/>
<circle cx="1371.16" cy="889.81" r="5.2" fill="#fff" stroke="#000" stroke-width="1.6"/>
<circle cx="1448.03" cy="1020.27" r="5.2" fill="#fff" stroke="#000" stroke-width="1.6"/>
<circle cx="1524.91" cy="1131.04" r="5.2" fill="#fff" stroke="#000" stroke-width="1.6"/>
<circle cx="1601.78" cy="1210.8" r="5.2" fill="#fff" stroke="#000" stroke-width="1.6"/>
<path d="M1000 836.85H1012L1006 846.25Z" fill="#000"/>
<path d="M1134.53 815.8H1146.53L1140.53 825.2Z" fill="#000"/>
<path d="M1211.41 809.71H1223.41L1217.41 819.11Z" fill="#000"/>
<path d="M1288.28 844.6H1300.28L1294.28 854Z" fill="#000"/>
<path d="M1365.16 836.41H1377.16L1371.16 845.81Z" fill="#000"/>
<path d="M1442.03 901.28H1454.03L1448.03 910.68Z" fill="#000"/>
<path d="M1518.91 980.49H1530.91L1524.91 989.89Z" fill="#000"/>
<path d="M1595.78 1206.1H1607.78L1601.78 1215.5Z" fill="#000"/>
<path d="M1000.7 845.55H1011.3L1006 837.55Z" fill="#fff" stroke="#000" stroke-width="1.5" stroke-linejoin="miter"/>
<path d="M1135.23 789.05H1145.83L1140.53 781.05Z" fill="#fff" stroke="#000" stroke-width="1.5" stroke-linejoin="miter"/>
<path d="M1212.11 813.43H1222.71L1217.41 805.43Z" fill="#fff" stroke="#000" stroke-width="1.5" stroke-linejoin="miter"/>
<path d="M1288.98 817.71H1299.58L1294.28 809.71Z" fill="#fff" stroke="#000" stroke-width="1.5" stroke-linejoin="miter"/>
<path d="M1365.86 797.4H1376.46L1371.16 789.4Z" fill="#fff" stroke="#000" stroke-width="1.5" stroke-linejoin="miter"/>
<path d="M1442.73 817.71H1453.33L1448.03 809.71Z" fill="#fff" stroke="#000" stroke-width="1.5" stroke-linejoin="miter"/>
<path d="M1519.61 1001.37H1530.21L1524.91 993.37Z" fill="#fff" stroke="#000" stroke-width="1.5" stroke-linejoin="miter"/>
<path d="M1596.48 1214.8H1607.08L1601.78 1206.8Z" fill="#fff" stroke="#000" stroke-width="1.5" stroke-linejoin="miter"/>
<path d="M1022 1042.5H1113.5" stroke="#000" stroke-width="1.15" fill="none"/>
<circle cx="1066.5" cy="1042.8" r="8" fill="#000"/>
<text x="1134.5" y="1056.2" font-size="38.3">H3K4me3 - ES</text>
<path d="M1022 1088.5H1113.5" stroke="#000" stroke-width="1.15" fill="none" stroke-dasharray="18 7.4"/>
<circle cx="1066.5" cy="1088.7" r="6.4" fill="#fff" stroke="#000" stroke-width="1.6"/>
<text x="1134.5" y="1102.1" font-size="38.3">H3K4me3 - NPC</text>
<path d="M1022 1134.5H1113.5" stroke="#000" stroke-width="4.0" fill="none" stroke-dasharray="0 7.9" stroke-linecap="round"/>
<path d="M1058.8 1127H1074.2L1066.5 1143Z" fill="#000"/>
<text x="1134.5" y="1147.4" font-size="38.3">H3K27me3 - ES</text>
<path d="M1022 1178.5H1113.5" stroke="#000" stroke-width="1.15" fill="none" stroke-dasharray="15 4.8 1.3 4 1.3 5"/>
<path d="M1059.2 1188.3H1073.8L1066.5 1174.7Z" fill="#fff" stroke="#000" stroke-width="1.8" stroke-linejoin="miter"/>
<text x="1134.5" y="1191.9" font-size="38.3">H3K27me3 - NPC</text>
</svg>
</body></html>
